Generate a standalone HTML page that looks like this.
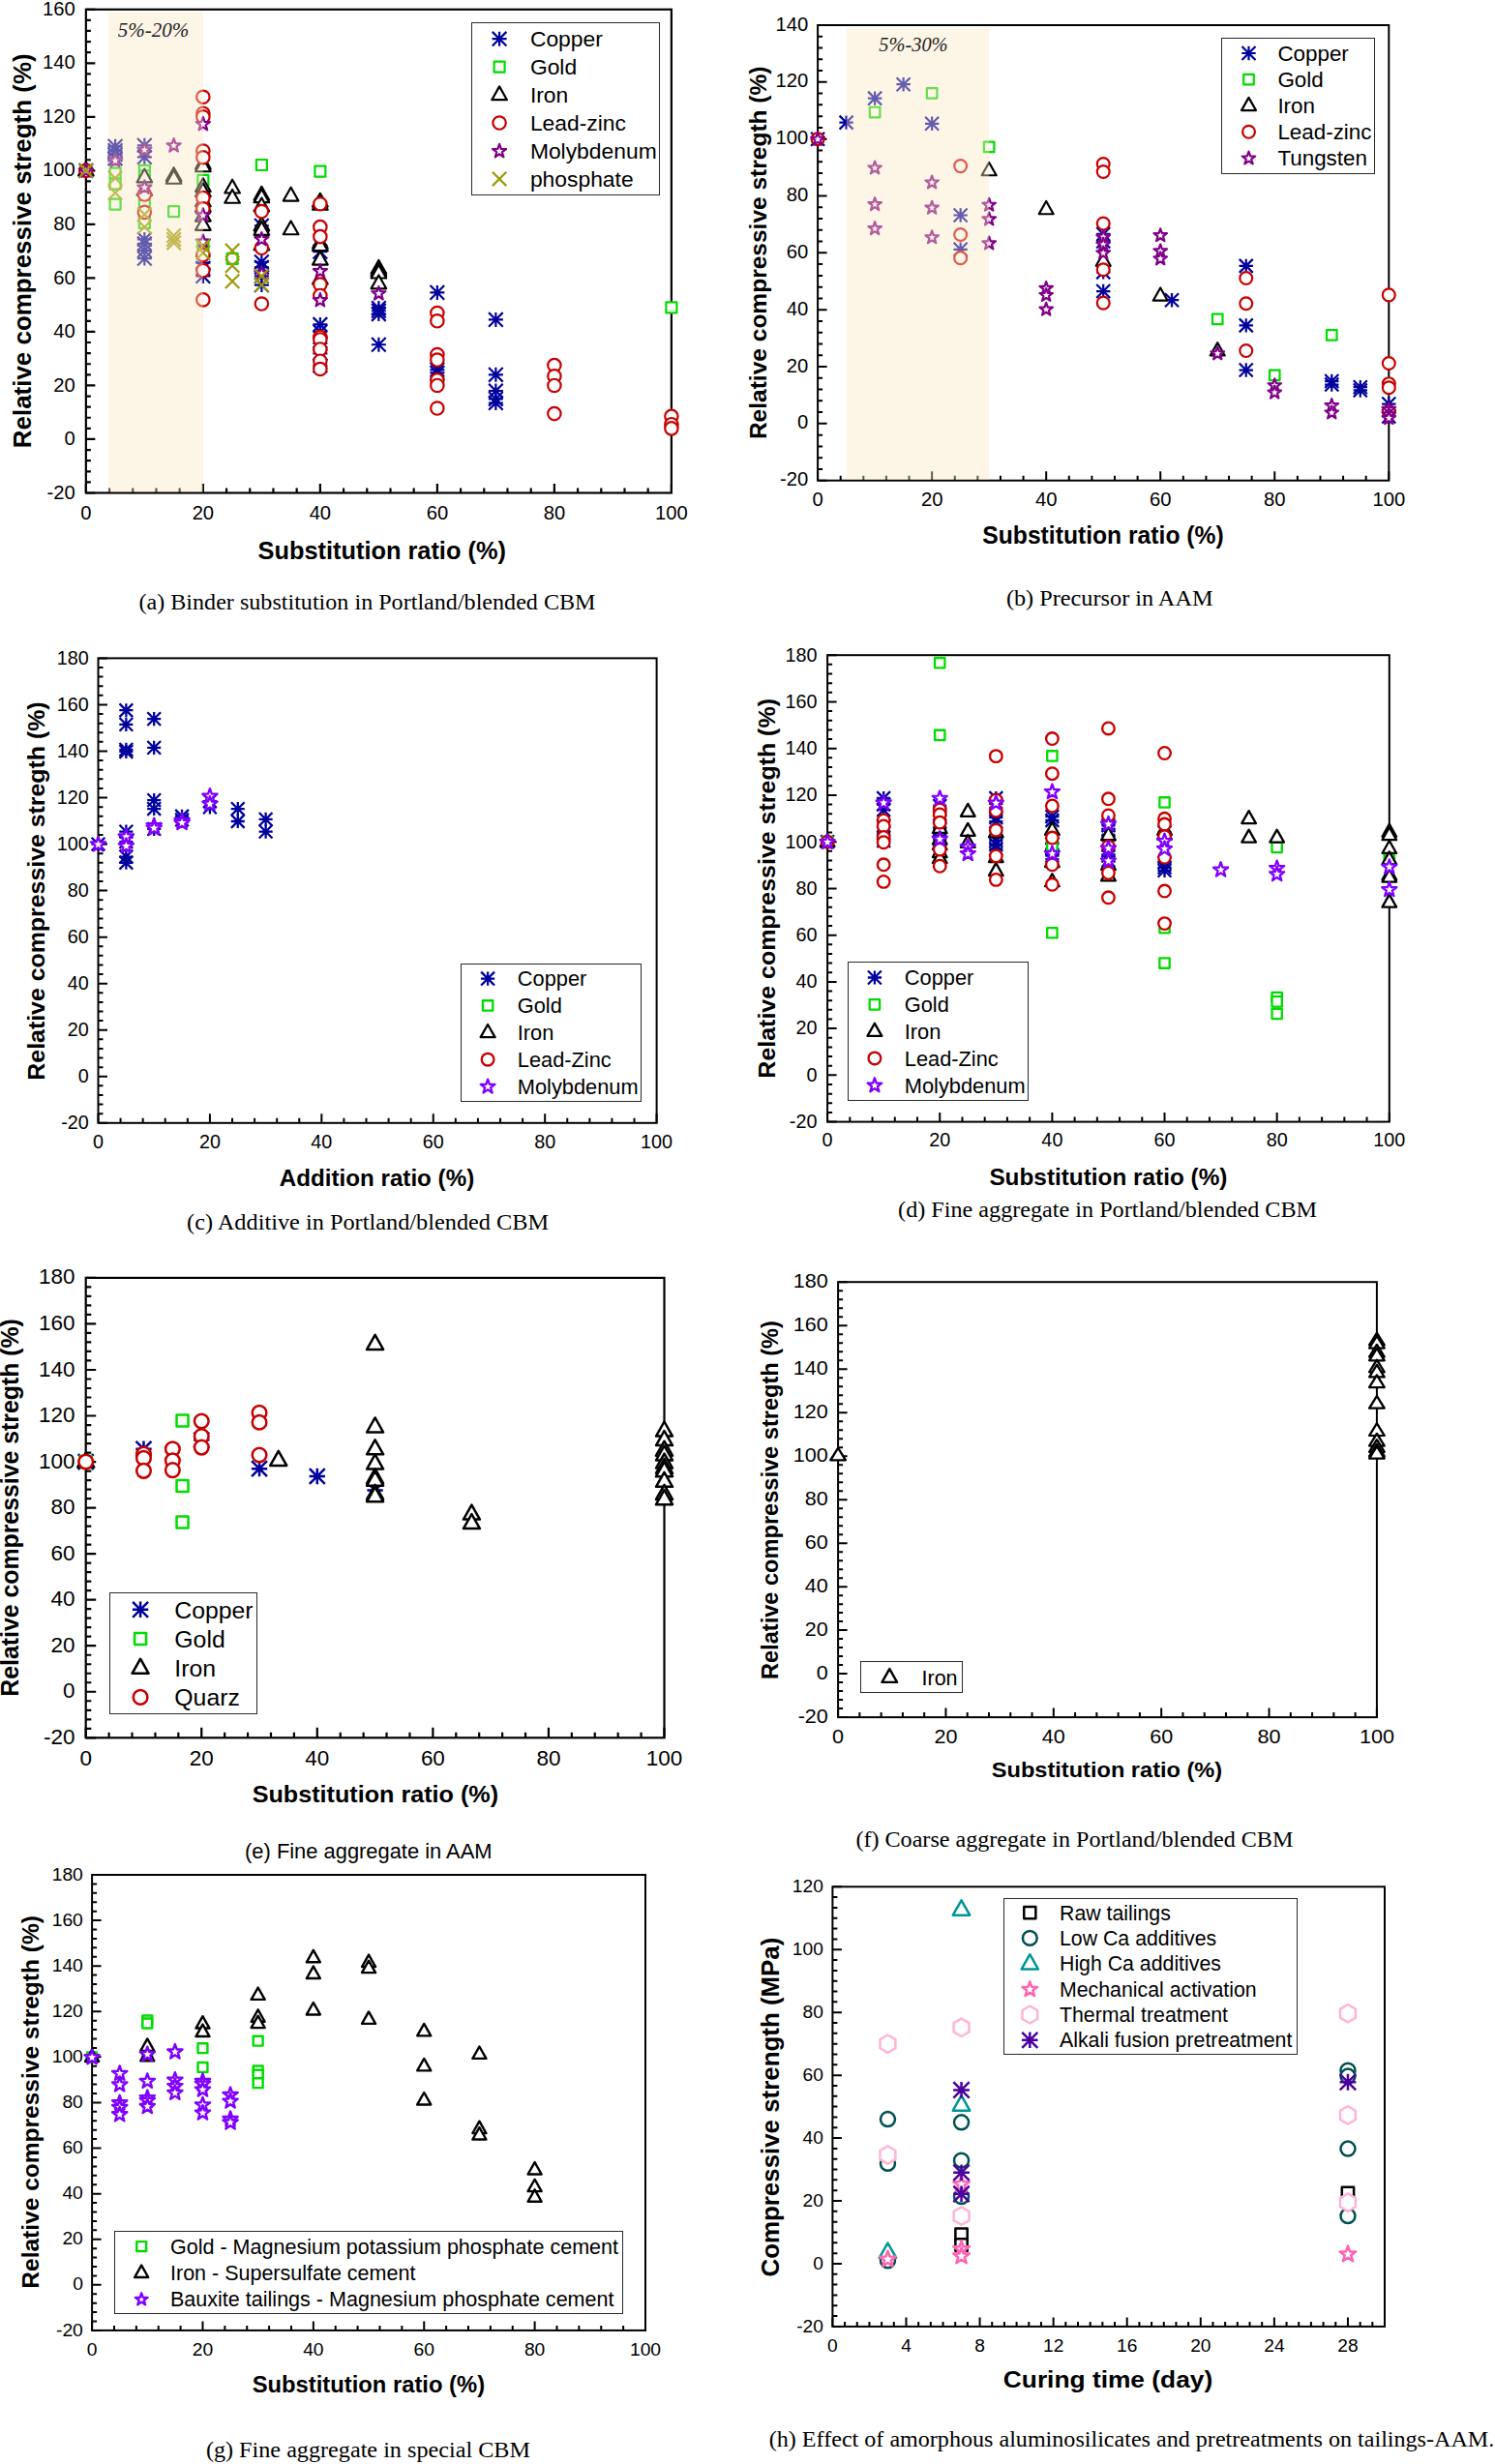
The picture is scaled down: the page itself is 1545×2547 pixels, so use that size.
<!DOCTYPE html>
<html lang="en"><head><meta charset="utf-8"><title>Relative compressive strength of tailings-based materials</title>
<style>html,body{margin:0;padding:0;background:#fff}svg{display:block}</style></head>
<body>
<svg width="1545" height="2547" viewBox="0 0 1545 2547" font-family="'Liberation Sans',sans-serif" fill="#000">
<g>
<path d="M88.85 509.5V500M209.86 509.5V500M330.87 509.5V500M451.88 509.5V500M572.89 509.5V500M693.9 509.5V500M113.05 509.5V504.5M137.25 509.5V504.5M161.46 509.5V504.5M185.66 509.5V504.5M234.06 509.5V504.5M258.26 509.5V504.5M282.47 509.5V504.5M306.67 509.5V504.5M355.07 509.5V504.5M379.27 509.5V504.5M403.48 509.5V504.5M427.68 509.5V504.5M476.08 509.5V504.5M500.28 509.5V504.5M524.49 509.5V504.5M548.69 509.5V504.5M597.09 509.5V504.5M621.29 509.5V504.5M645.5 509.5V504.5M669.7 509.5V504.5M88.85 509.5H98.35M88.85 453.97H98.35M88.85 398.44H98.35M88.85 342.92H98.35M88.85 287.39H98.35M88.85 231.86H98.35M88.85 176.33H98.35M88.85 120.81H98.35M88.85 65.28H98.35M88.85 9.75H98.35M88.85 498.39H93.85M88.85 487.29H93.85M88.85 476.18H93.85M88.85 465.08H93.85M88.85 442.87H93.85M88.85 431.76H93.85M88.85 420.66H93.85M88.85 409.55H93.85M88.85 387.34H93.85M88.85 376.23H93.85M88.85 365.13H93.85M88.85 354.02H93.85M88.85 331.81H93.85M88.85 320.71H93.85M88.85 309.6H93.85M88.85 298.49H93.85M88.85 276.28H93.85M88.85 265.18H93.85M88.85 254.07H93.85M88.85 242.97H93.85M88.85 220.76H93.85M88.85 209.65H93.85M88.85 198.54H93.85M88.85 187.44H93.85M88.85 165.23H93.85M88.85 154.12H93.85M88.85 143.02H93.85M88.85 131.91H93.85M88.85 109.7H93.85M88.85 98.59H93.85M88.85 87.49H93.85M88.85 76.38H93.85M88.85 54.17H93.85M88.85 43.07H93.85M88.85 31.96H93.85M88.85 20.86H93.85" stroke="#000" stroke-width="2.2" fill="none"/>
<rect x="88.85" y="9.75" width="605.05" height="499.75" stroke="#000" stroke-width="2.2" fill="none"/>
<path d="M88.85 168.83V183.83M81.35 176.33H96.35M81.55 169.03L96.15 183.63M81.55 183.63L96.15 169.03" stroke="#00009e" stroke-width="2.2" fill="none"/>
<path d="M119.1 143.85V158.85M111.6 151.35H126.6M111.8 144.05L126.4 158.65M111.8 158.65L126.4 144.05" stroke="#00009e" stroke-width="2.2" fill="none"/>
<path d="M119.1 148.01V163.01M111.6 155.51H126.6M111.8 148.21L126.4 162.81M111.8 162.81L126.4 148.21" stroke="#00009e" stroke-width="2.2" fill="none"/>
<path d="M119.1 152.18V167.18M111.6 159.68H126.6M111.8 152.38L126.4 166.98M111.8 166.98L126.4 152.38" stroke="#00009e" stroke-width="2.2" fill="none"/>
<path d="M119.1 156.34V171.34M111.6 163.84H126.6M111.8 156.54L126.4 171.14M111.8 171.14L126.4 156.54" stroke="#00009e" stroke-width="2.2" fill="none"/>
<path d="M149.35 142.74V157.74M141.85 150.24H156.85M142.05 142.94L156.66 157.54M142.05 157.54L156.66 142.94" stroke="#00009e" stroke-width="2.2" fill="none"/>
<path d="M149.35 154.95V169.95M141.85 162.45H156.85M142.05 155.15L156.66 169.75M142.05 169.75L156.66 155.15" stroke="#00009e" stroke-width="2.2" fill="none"/>
<path d="M149.35 239.91V254.91M141.85 247.41H156.85M142.05 240.11L156.66 254.71M142.05 254.71L156.66 240.11" stroke="#00009e" stroke-width="2.2" fill="none"/>
<path d="M149.35 244.35V259.35M141.85 251.85H156.85M142.05 244.55L156.66 259.15M142.05 259.15L156.66 244.55" stroke="#00009e" stroke-width="2.2" fill="none"/>
<path d="M149.35 251.57V266.57M141.85 259.07H156.85M142.05 251.77L156.66 266.37M142.05 266.37L156.66 251.77" stroke="#00009e" stroke-width="2.2" fill="none"/>
<path d="M149.35 259.62V274.62M141.85 267.12H156.85M142.05 259.82L156.66 274.42M142.05 274.42L156.66 259.82" stroke="#00009e" stroke-width="2.2" fill="none"/>
<path d="M209.86 264.06V279.06M202.36 271.56H217.36M202.56 264.26L217.16 278.86M202.56 278.86L217.16 264.26" stroke="#00009e" stroke-width="2.2" fill="none"/>
<path d="M209.86 269.89V284.89M202.36 277.39H217.36M202.56 270.09L217.16 284.69M202.56 284.69L217.16 270.09" stroke="#00009e" stroke-width="2.2" fill="none"/>
<path d="M209.86 277.95V292.95M202.36 285.45H217.36M202.56 278.15L217.16 292.75M202.56 292.75L217.16 278.15" stroke="#00009e" stroke-width="2.2" fill="none"/>
<path d="M270.37 225.75V240.75M262.87 233.25H277.87M263.06 225.95L277.67 240.55M263.06 240.55L277.67 225.95" stroke="#00009e" stroke-width="2.2" fill="none"/>
<path d="M270.37 263.23V278.23M262.87 270.73H277.87M263.06 263.43L277.67 278.03M263.06 278.03L277.67 263.43" stroke="#00009e" stroke-width="2.2" fill="none"/>
<path d="M270.37 268.78V283.78M262.87 276.28H277.87M263.06 268.98L277.67 283.58M263.06 283.58L277.67 268.98" stroke="#00009e" stroke-width="2.2" fill="none"/>
<path d="M270.37 277.95V292.95M262.87 285.45H277.87M263.06 278.15L277.67 292.75M263.06 292.75L277.67 278.15" stroke="#00009e" stroke-width="2.2" fill="none"/>
<path d="M270.37 287.11V302.11M262.87 294.61H277.87M263.06 287.31L277.67 301.91M263.06 301.91L277.67 287.31" stroke="#00009e" stroke-width="2.2" fill="none"/>
<path d="M330.87 252.68V267.68M323.37 260.18H338.37M323.57 252.88L338.17 267.48M323.57 267.48L338.17 252.88" stroke="#00009e" stroke-width="2.2" fill="none"/>
<path d="M330.87 327.92V342.92M323.37 335.42H338.37M323.57 328.12L338.17 342.72M323.57 342.72L338.17 328.12" stroke="#00009e" stroke-width="2.2" fill="none"/>
<path d="M330.87 335.42V350.42M323.37 342.92H338.37M323.57 335.62L338.17 350.22M323.57 350.22L338.17 335.62" stroke="#00009e" stroke-width="2.2" fill="none"/>
<path d="M330.87 347.36V362.36M323.37 354.86H338.37M323.57 347.56L338.17 362.16M323.57 362.16L338.17 347.56" stroke="#00009e" stroke-width="2.2" fill="none"/>
<path d="M330.87 357.91V372.91M323.37 365.41H338.37M323.57 358.11L338.17 372.71M323.57 372.71L338.17 358.11" stroke="#00009e" stroke-width="2.2" fill="none"/>
<path d="M330.87 370.4V385.4M323.37 377.9H338.37M323.57 370.6L338.17 385.2M323.57 385.2L338.17 370.6" stroke="#00009e" stroke-width="2.2" fill="none"/>
<path d="M391.38 310.98V325.98M383.88 318.48H398.88M384.07 311.18L398.68 325.78M384.07 325.78L398.68 311.18" stroke="#00009e" stroke-width="2.2" fill="none"/>
<path d="M391.38 313.76V328.76M383.88 321.26H398.88M384.07 313.96L398.68 328.56M384.07 328.56L398.68 313.96" stroke="#00009e" stroke-width="2.2" fill="none"/>
<path d="M391.38 317.09V332.09M383.88 324.59H398.88M384.07 317.29L398.68 331.89M384.07 331.89L398.68 317.29" stroke="#00009e" stroke-width="2.2" fill="none"/>
<path d="M391.38 348.74V363.74M383.88 356.24H398.88M384.07 348.94L398.68 363.54M384.07 363.54L398.68 348.94" stroke="#00009e" stroke-width="2.2" fill="none"/>
<path d="M451.88 294.88V309.88M444.38 302.38H459.38M444.58 295.08L459.18 309.68M444.58 309.68L459.18 295.08" stroke="#00009e" stroke-width="2.2" fill="none"/>
<path d="M451.88 374.84V389.84M444.38 382.34H459.38M444.58 375.04L459.18 389.64M444.58 389.64L459.18 375.04" stroke="#00009e" stroke-width="2.2" fill="none"/>
<path d="M451.88 377.9V392.9M444.38 385.4H459.38M444.58 378.1L459.18 392.7M444.58 392.7L459.18 378.1" stroke="#00009e" stroke-width="2.2" fill="none"/>
<path d="M512.38 322.92V337.92M504.88 330.42H519.88M505.08 323.12L519.68 337.72M505.08 337.72L519.68 323.12" stroke="#00009e" stroke-width="2.2" fill="none"/>
<path d="M512.38 379.84V394.84M504.88 387.34H519.88M505.08 380.04L519.68 394.64M505.08 394.64L519.68 380.04" stroke="#00009e" stroke-width="2.2" fill="none"/>
<path d="M512.38 396.5V411.5M504.88 404H519.88M505.08 396.7L519.68 411.3M505.08 411.3L519.68 396.7" stroke="#00009e" stroke-width="2.2" fill="none"/>
<path d="M512.38 404.83V419.83M504.88 412.33H519.88M505.08 405.03L519.68 419.63M505.08 419.63L519.68 405.03" stroke="#00009e" stroke-width="2.2" fill="none"/>
<path d="M512.38 408.99V423.99M504.88 416.49H519.88M505.08 409.19L519.68 423.79M505.08 423.79L519.68 409.19" stroke="#00009e" stroke-width="2.2" fill="none"/>
<rect x="83.35" y="170.83" width="11" height="11" stroke="#00dc00" stroke-width="2.2" fill="#fff" stroke-linejoin="round"/>
<rect x="113.6" y="173.61" width="11" height="11" stroke="#00dc00" stroke-width="2.2" fill="#fff" stroke-linejoin="round"/>
<rect x="113.6" y="184.72" width="11" height="11" stroke="#00dc00" stroke-width="2.2" fill="#fff" stroke-linejoin="round"/>
<rect x="113.6" y="205.54" width="11" height="11" stroke="#00dc00" stroke-width="2.2" fill="#fff" stroke-linejoin="round"/>
<rect x="143.85" y="170.83" width="11" height="11" stroke="#00dc00" stroke-width="2.2" fill="#fff" stroke-linejoin="round"/>
<rect x="143.85" y="176.39" width="11" height="11" stroke="#00dc00" stroke-width="2.2" fill="#fff" stroke-linejoin="round"/>
<rect x="143.85" y="206.93" width="11" height="11" stroke="#00dc00" stroke-width="2.2" fill="#fff" stroke-linejoin="round"/>
<rect x="143.85" y="216.09" width="11" height="11" stroke="#00dc00" stroke-width="2.2" fill="#fff" stroke-linejoin="round"/>
<rect x="143.85" y="224.97" width="11" height="11" stroke="#00dc00" stroke-width="2.2" fill="#fff" stroke-linejoin="round"/>
<rect x="174.11" y="213.03" width="11" height="11" stroke="#00dc00" stroke-width="2.2" fill="#fff" stroke-linejoin="round"/>
<rect x="204.36" y="180.83" width="11" height="11" stroke="#00dc00" stroke-width="2.2" fill="#fff" stroke-linejoin="round"/>
<rect x="204.36" y="247.74" width="11" height="11" stroke="#00dc00" stroke-width="2.2" fill="#fff" stroke-linejoin="round"/>
<rect x="234.61" y="261.9" width="11" height="11" stroke="#00dc00" stroke-width="2.2" fill="#fff" stroke-linejoin="round"/>
<rect x="264.87" y="165" width="11" height="11" stroke="#00dc00" stroke-width="2.2" fill="#fff" stroke-linejoin="round"/>
<rect x="325.37" y="171.67" width="11" height="11" stroke="#00dc00" stroke-width="2.2" fill="#fff" stroke-linejoin="round"/>
<rect x="688.4" y="312.43" width="11" height="11" stroke="#00dc00" stroke-width="2.2" fill="#fff" stroke-linejoin="round"/>
<path d="M88.85 167.63L96.65 181.43L81.05 181.43Z" stroke="#000" stroke-width="2.2" fill="#fff" stroke-linejoin="round"/>
<path d="M149.35 174.57L157.16 188.37L141.55 188.37Z" stroke="#000" stroke-width="2.2" fill="#fff" stroke-linejoin="round"/>
<path d="M149.35 187.9L157.16 201.7L141.55 201.7Z" stroke="#000" stroke-width="2.2" fill="#fff" stroke-linejoin="round"/>
<path d="M179.61 173.19L187.41 186.99L171.81 186.99Z" stroke="#000" stroke-width="2.2" fill="#fff" stroke-linejoin="round"/>
<path d="M179.61 175.96L187.41 189.76L171.81 189.76Z" stroke="#000" stroke-width="2.2" fill="#fff" stroke-linejoin="round"/>
<path d="M209.86 160.69L217.66 174.49L202.06 174.49Z" stroke="#000" stroke-width="2.2" fill="#fff" stroke-linejoin="round"/>
<path d="M209.86 163.47L217.66 177.27L202.06 177.27Z" stroke="#000" stroke-width="2.2" fill="#fff" stroke-linejoin="round"/>
<path d="M209.86 184.29L217.66 198.09L202.06 198.09Z" stroke="#000" stroke-width="2.2" fill="#fff" stroke-linejoin="round"/>
<path d="M209.86 189.29L217.66 203.09L202.06 203.09Z" stroke="#000" stroke-width="2.2" fill="#fff" stroke-linejoin="round"/>
<path d="M209.86 199.56L217.66 213.36L202.06 213.36Z" stroke="#000" stroke-width="2.2" fill="#fff" stroke-linejoin="round"/>
<path d="M209.86 205.11L217.66 218.91L202.06 218.91Z" stroke="#000" stroke-width="2.2" fill="#fff" stroke-linejoin="round"/>
<path d="M209.86 214.83L217.66 228.63L202.06 228.63Z" stroke="#000" stroke-width="2.2" fill="#fff" stroke-linejoin="round"/>
<path d="M209.86 223.99L217.66 237.79L202.06 237.79Z" stroke="#000" stroke-width="2.2" fill="#fff" stroke-linejoin="round"/>
<path d="M240.11 185.68L247.91 199.48L232.31 199.48Z" stroke="#000" stroke-width="2.2" fill="#fff" stroke-linejoin="round"/>
<path d="M240.11 195.95L247.91 209.75L232.31 209.75Z" stroke="#000" stroke-width="2.2" fill="#fff" stroke-linejoin="round"/>
<path d="M270.37 192.9L278.17 206.7L262.56 206.7Z" stroke="#000" stroke-width="2.2" fill="#fff" stroke-linejoin="round"/>
<path d="M270.37 195.4L278.17 209.2L262.56 209.2Z" stroke="#000" stroke-width="2.2" fill="#fff" stroke-linejoin="round"/>
<path d="M270.37 204.56L278.17 218.36L262.56 218.36Z" stroke="#000" stroke-width="2.2" fill="#fff" stroke-linejoin="round"/>
<path d="M270.37 224.55L278.17 238.35L262.56 238.35Z" stroke="#000" stroke-width="2.2" fill="#fff" stroke-linejoin="round"/>
<path d="M270.37 228.99L278.17 242.79L262.56 242.79Z" stroke="#000" stroke-width="2.2" fill="#fff" stroke-linejoin="round"/>
<path d="M270.37 244.54L278.17 258.34L262.56 258.34Z" stroke="#000" stroke-width="2.2" fill="#fff" stroke-linejoin="round"/>
<path d="M300.62 193.73L308.42 207.53L292.82 207.53Z" stroke="#000" stroke-width="2.2" fill="#fff" stroke-linejoin="round"/>
<path d="M300.62 228.44L308.42 242.24L292.82 242.24Z" stroke="#000" stroke-width="2.2" fill="#fff" stroke-linejoin="round"/>
<path d="M330.87 199.84L338.67 213.64L323.07 213.64Z" stroke="#000" stroke-width="2.2" fill="#fff" stroke-linejoin="round"/>
<path d="M330.87 202.89L338.67 216.69L323.07 216.69Z" stroke="#000" stroke-width="2.2" fill="#fff" stroke-linejoin="round"/>
<path d="M330.87 242.87L338.67 256.67L323.07 256.67Z" stroke="#000" stroke-width="2.2" fill="#fff" stroke-linejoin="round"/>
<path d="M330.87 245.37L338.67 259.17L323.07 259.17Z" stroke="#000" stroke-width="2.2" fill="#fff" stroke-linejoin="round"/>
<path d="M330.87 259.81L338.67 273.61L323.07 273.61Z" stroke="#000" stroke-width="2.2" fill="#fff" stroke-linejoin="round"/>
<path d="M330.87 279.8L338.67 293.6L323.07 293.6Z" stroke="#000" stroke-width="2.2" fill="#fff" stroke-linejoin="round"/>
<path d="M391.38 268.97L399.18 282.77L383.57 282.77Z" stroke="#000" stroke-width="2.2" fill="#fff" stroke-linejoin="round"/>
<path d="M391.38 271.47L399.18 285.27L383.57 285.27Z" stroke="#000" stroke-width="2.2" fill="#fff" stroke-linejoin="round"/>
<path d="M391.38 273.69L399.18 287.49L383.57 287.49Z" stroke="#000" stroke-width="2.2" fill="#fff" stroke-linejoin="round"/>
<path d="M391.38 284.52L399.18 298.32L383.57 298.32Z" stroke="#000" stroke-width="2.2" fill="#fff" stroke-linejoin="round"/>
<circle cx="88.85" cy="176.33" r="6.7" stroke="#c80000" stroke-width="2.2" fill="#fff"/>
<circle cx="149.35" cy="201.04" r="6.7" stroke="#c80000" stroke-width="2.2" fill="#fff"/>
<circle cx="149.35" cy="219.37" r="6.7" stroke="#c80000" stroke-width="2.2" fill="#fff"/>
<circle cx="209.86" cy="100.26" r="6.7" stroke="#c80000" stroke-width="2.2" fill="#fff"/>
<circle cx="209.86" cy="117.2" r="6.7" stroke="#c80000" stroke-width="2.2" fill="#fff"/>
<circle cx="209.86" cy="120.81" r="6.7" stroke="#c80000" stroke-width="2.2" fill="#fff"/>
<circle cx="209.86" cy="156.07" r="6.7" stroke="#c80000" stroke-width="2.2" fill="#fff"/>
<circle cx="209.86" cy="162.73" r="6.7" stroke="#c80000" stroke-width="2.2" fill="#fff"/>
<circle cx="209.86" cy="204.65" r="6.7" stroke="#c80000" stroke-width="2.2" fill="#fff"/>
<circle cx="209.86" cy="215.76" r="6.7" stroke="#c80000" stroke-width="2.2" fill="#fff"/>
<circle cx="209.86" cy="263.51" r="6.7" stroke="#c80000" stroke-width="2.2" fill="#fff"/>
<circle cx="209.86" cy="279.62" r="6.7" stroke="#c80000" stroke-width="2.2" fill="#fff"/>
<circle cx="209.86" cy="309.88" r="6.7" stroke="#c80000" stroke-width="2.2" fill="#fff"/>
<circle cx="270.37" cy="218.53" r="6.7" stroke="#c80000" stroke-width="2.2" fill="#fff"/>
<circle cx="270.37" cy="256.29" r="6.7" stroke="#c80000" stroke-width="2.2" fill="#fff"/>
<circle cx="270.37" cy="314.04" r="6.7" stroke="#c80000" stroke-width="2.2" fill="#fff"/>
<circle cx="330.87" cy="210.76" r="6.7" stroke="#c80000" stroke-width="2.2" fill="#fff"/>
<circle cx="330.87" cy="234.64" r="6.7" stroke="#c80000" stroke-width="2.2" fill="#fff"/>
<circle cx="330.87" cy="244.63" r="6.7" stroke="#c80000" stroke-width="2.2" fill="#fff"/>
<circle cx="330.87" cy="294.05" r="6.7" stroke="#c80000" stroke-width="2.2" fill="#fff"/>
<circle cx="330.87" cy="305.44" r="6.7" stroke="#c80000" stroke-width="2.2" fill="#fff"/>
<circle cx="330.87" cy="348.47" r="6.7" stroke="#c80000" stroke-width="2.2" fill="#fff"/>
<circle cx="330.87" cy="350.97" r="6.7" stroke="#c80000" stroke-width="2.2" fill="#fff"/>
<circle cx="330.87" cy="360.96" r="6.7" stroke="#c80000" stroke-width="2.2" fill="#fff"/>
<circle cx="330.87" cy="373.18" r="6.7" stroke="#c80000" stroke-width="2.2" fill="#fff"/>
<circle cx="330.87" cy="381.51" r="6.7" stroke="#c80000" stroke-width="2.2" fill="#fff"/>
<circle cx="451.88" cy="323.48" r="6.7" stroke="#c80000" stroke-width="2.2" fill="#fff"/>
<circle cx="451.88" cy="331.81" r="6.7" stroke="#c80000" stroke-width="2.2" fill="#fff"/>
<circle cx="451.88" cy="366.52" r="6.7" stroke="#c80000" stroke-width="2.2" fill="#fff"/>
<circle cx="451.88" cy="372.07" r="6.7" stroke="#c80000" stroke-width="2.2" fill="#fff"/>
<circle cx="451.88" cy="392.89" r="6.7" stroke="#c80000" stroke-width="2.2" fill="#fff"/>
<circle cx="451.88" cy="398.44" r="6.7" stroke="#c80000" stroke-width="2.2" fill="#fff"/>
<circle cx="451.88" cy="422.04" r="6.7" stroke="#c80000" stroke-width="2.2" fill="#fff"/>
<circle cx="572.89" cy="377.62" r="6.7" stroke="#c80000" stroke-width="2.2" fill="#fff"/>
<circle cx="572.89" cy="388.73" r="6.7" stroke="#c80000" stroke-width="2.2" fill="#fff"/>
<circle cx="572.89" cy="398.44" r="6.7" stroke="#c80000" stroke-width="2.2" fill="#fff"/>
<circle cx="572.89" cy="427.6" r="6.7" stroke="#c80000" stroke-width="2.2" fill="#fff"/>
<circle cx="693.9" cy="430.37" r="6.7" stroke="#c80000" stroke-width="2.2" fill="#fff"/>
<circle cx="693.9" cy="438.7" r="6.7" stroke="#c80000" stroke-width="2.2" fill="#fff"/>
<circle cx="693.9" cy="442.87" r="6.7" stroke="#c80000" stroke-width="2.2" fill="#fff"/>
<path d="M88.85 169.23L90.59 174.24L95.89 174.35L91.67 177.55L93.2 182.62L88.85 179.59L84.5 182.62L86.03 177.55L81.81 174.35L87.11 174.24Z" stroke="#800088" stroke-width="2.2" fill="#fff" stroke-linejoin="round"/>
<path d="M119.1 158.68L120.84 163.69L126.14 163.8L121.92 167L123.45 172.07L119.1 169.04L114.75 172.07L116.29 167L112.06 163.8L117.36 163.69Z" stroke="#800088" stroke-width="2.2" fill="#fff" stroke-linejoin="round"/>
<path d="M149.35 147.58L151.09 152.58L156.39 152.69L152.17 155.89L153.7 160.96L149.35 157.94L145.01 160.96L146.54 155.89L142.32 152.69L147.62 152.58Z" stroke="#800088" stroke-width="2.2" fill="#fff" stroke-linejoin="round"/>
<path d="M149.35 186.45L151.09 191.45L156.39 191.56L152.17 194.76L153.7 199.83L149.35 196.81L145.01 199.83L146.54 194.76L142.32 191.56L147.62 191.45Z" stroke="#800088" stroke-width="2.2" fill="#fff" stroke-linejoin="round"/>
<path d="M179.61 143.14L181.35 148.14L186.65 148.25L182.42 151.45L183.96 156.52L179.61 153.5L175.26 156.52L176.79 151.45L172.57 148.25L177.87 148.14Z" stroke="#800088" stroke-width="2.2" fill="#fff" stroke-linejoin="round"/>
<path d="M209.86 120.92L211.6 125.93L216.9 126.04L212.68 129.24L214.21 134.31L209.86 131.28L205.51 134.31L207.04 129.24L202.82 126.04L208.12 125.93Z" stroke="#800088" stroke-width="2.2" fill="#fff" stroke-linejoin="round"/>
<path d="M209.86 215.32L211.6 220.33L216.9 220.43L212.68 223.64L214.21 228.71L209.86 225.68L205.51 228.71L207.04 223.64L202.82 220.43L208.12 220.33Z" stroke="#800088" stroke-width="2.2" fill="#fff" stroke-linejoin="round"/>
<path d="M209.86 242.53L211.6 247.54L216.9 247.64L212.68 250.84L214.21 255.92L209.86 252.89L205.51 255.92L207.04 250.84L202.82 247.64L208.12 247.54Z" stroke="#800088" stroke-width="2.2" fill="#fff" stroke-linejoin="round"/>
<path d="M270.37 240.03L272.1 245.04L277.4 245.14L273.18 248.35L274.71 253.42L270.37 250.39L266.02 253.42L267.55 248.35L263.33 245.14L268.63 245.04Z" stroke="#800088" stroke-width="2.2" fill="#fff" stroke-linejoin="round"/>
<path d="M270.37 275.29L272.1 280.3L277.4 280.4L273.18 283.61L274.71 288.68L270.37 285.65L266.02 288.68L267.55 283.61L263.33 280.4L268.63 280.3Z" stroke="#800088" stroke-width="2.2" fill="#fff" stroke-linejoin="round"/>
<path d="M330.87 273.07L332.61 278.08L337.91 278.18L333.69 281.38L335.22 286.46L330.87 283.43L326.52 286.46L328.05 281.38L323.83 278.18L329.13 278.08Z" stroke="#800088" stroke-width="2.2" fill="#fff" stroke-linejoin="round"/>
<path d="M330.87 303.06L332.61 308.06L337.91 308.17L333.69 311.37L335.22 316.44L330.87 313.42L326.52 316.44L328.05 311.37L323.83 308.17L329.13 308.06Z" stroke="#800088" stroke-width="2.2" fill="#fff" stroke-linejoin="round"/>
<path d="M391.38 296.11L393.11 301.12L398.41 301.23L394.19 304.43L395.72 309.5L391.38 306.47L387.03 309.5L388.56 304.43L384.34 301.23L389.64 301.12Z" stroke="#800088" stroke-width="2.2" fill="#fff" stroke-linejoin="round"/>
<path d="M81.65 169.13L96.05 183.53M81.65 183.53L96.05 169.13" stroke="#9e9a08" stroke-width="2.2" fill="none"/>
<path d="M111.9 176.91L126.3 191.31M111.9 191.31L126.3 176.91" stroke="#9e9a08" stroke-width="2.2" fill="none"/>
<path d="M111.9 192.18L126.3 206.58M111.9 206.58L126.3 192.18" stroke="#9e9a08" stroke-width="2.2" fill="none"/>
<path d="M142.16 214.39L156.55 228.79M142.16 228.79L156.55 214.39" stroke="#9e9a08" stroke-width="2.2" fill="none"/>
<path d="M142.16 227.44L156.55 241.84M142.16 241.84L156.55 227.44" stroke="#9e9a08" stroke-width="2.2" fill="none"/>
<path d="M172.41 236.32L186.81 250.72M172.41 250.72L186.81 236.32" stroke="#9e9a08" stroke-width="2.2" fill="none"/>
<path d="M172.41 240.21L186.81 254.61M172.41 254.61L186.81 240.21" stroke="#9e9a08" stroke-width="2.2" fill="none"/>
<path d="M172.41 243.82L186.81 258.22M172.41 258.22L186.81 243.82" stroke="#9e9a08" stroke-width="2.2" fill="none"/>
<path d="M202.66 247.43L217.06 261.83M202.66 261.83L217.06 247.43" stroke="#9e9a08" stroke-width="2.2" fill="none"/>
<path d="M202.66 254.09L217.06 268.49M202.66 268.49L217.06 254.09" stroke="#9e9a08" stroke-width="2.2" fill="none"/>
<path d="M232.91 251.87L247.31 266.27M232.91 266.27L247.31 251.87" stroke="#9e9a08" stroke-width="2.2" fill="none"/>
<path d="M232.91 267.42L247.31 281.82M232.91 281.82L247.31 267.42" stroke="#9e9a08" stroke-width="2.2" fill="none"/>
<path d="M232.91 283.52L247.31 297.92M232.91 297.92L247.31 283.52" stroke="#9e9a08" stroke-width="2.2" fill="none"/>
<path d="M263.17 278.25L277.56 292.65M263.17 292.65L277.56 278.25" stroke="#9e9a08" stroke-width="2.2" fill="none"/>
<path d="M263.17 287.41L277.56 301.81M263.17 301.81L277.56 287.41" stroke="#9e9a08" stroke-width="2.2" fill="none"/>
<rect x="111.84" y="12.35" width="98.02" height="496.15" fill="rgb(250,230,192)" fill-opacity="0.4"/>
<text x="158.5" y="37.9" font-family="'Liberation Serif',serif" font-style="italic" font-size="21" text-anchor="middle" fill="#222">5%-20%</text>
<text transform="translate(88.85 536.7) scale(1.01 1)" font-size="20" text-anchor="middle">0</text>
<text transform="translate(209.86 536.7) scale(1.01 1)" font-size="20" text-anchor="middle">20</text>
<text transform="translate(330.87 536.7) scale(1.01 1)" font-size="20" text-anchor="middle">40</text>
<text transform="translate(451.88 536.7) scale(1.01 1)" font-size="20" text-anchor="middle">60</text>
<text transform="translate(572.89 536.7) scale(1.01 1)" font-size="20" text-anchor="middle">80</text>
<text transform="translate(693.9 536.7) scale(1.01 1)" font-size="20" text-anchor="middle">100</text>
<text transform="translate(77.8 515.66) scale(1.01 1)" font-size="20" text-anchor="end">-20</text>
<text transform="translate(77.8 460.13) scale(1.01 1)" font-size="20" text-anchor="end">0</text>
<text transform="translate(77.8 404.6) scale(1.01 1)" font-size="20" text-anchor="end">20</text>
<text transform="translate(77.8 349.08) scale(1.01 1)" font-size="20" text-anchor="end">40</text>
<text transform="translate(77.8 293.55) scale(1.01 1)" font-size="20" text-anchor="end">60</text>
<text transform="translate(77.8 238.02) scale(1.01 1)" font-size="20" text-anchor="end">80</text>
<text transform="translate(77.8 182.49) scale(1.01 1)" font-size="20" text-anchor="end">100</text>
<text transform="translate(77.8 126.97) scale(1.01 1)" font-size="20" text-anchor="end">120</text>
<text transform="translate(77.8 71.44) scale(1.01 1)" font-size="20" text-anchor="end">140</text>
<text transform="translate(77.8 15.91) scale(1.01 1)" font-size="20" text-anchor="end">160</text>
<text x="394.7" y="578" font-size="25" font-weight="bold" text-anchor="middle" textLength="256.4" lengthAdjust="spacingAndGlyphs">Substitution ratio (%)</text>
<text transform="translate(32.1 259.3) rotate(-90)" font-size="25.8" font-weight="bold" text-anchor="middle" textLength="407.7" lengthAdjust="spacingAndGlyphs">Relative compressive stregth (%)</text>
<rect x="487.5" y="23.5" width="194" height="178" fill="#fff" stroke="#2a2a2a" stroke-width="1"/>
<path d="M516.1 32.7V47.7M508.6 40.2H523.6M508.8 32.9L523.4 47.5M508.8 47.5L523.4 32.9" stroke="#00009e" stroke-width="2.2" fill="none"/>
<text x="547.9" y="48.38" font-size="22.85">Copper</text>
<rect x="510.6" y="63.65" width="11" height="11" stroke="#00dc00" stroke-width="2.2" fill="#fff" stroke-linejoin="round"/>
<text x="547.9" y="77.33" font-size="22.85">Gold</text>
<path d="M516.1 89.4L523.9 103.2L508.3 103.2Z" stroke="#000" stroke-width="2.2" fill="#fff" stroke-linejoin="round"/>
<text x="547.9" y="106.28" font-size="22.85">Iron</text>
<circle cx="516.1" cy="127.05" r="6.7" stroke="#c80000" stroke-width="2.2" fill="#fff"/>
<text x="547.9" y="135.23" font-size="22.85">Lead-zinc</text>
<path d="M516.1 148.9L517.84 153.91L523.14 154.01L518.92 157.21L520.45 162.29L516.1 159.26L511.75 162.29L513.28 157.21L509.06 154.01L514.36 153.91Z" stroke="#800088" stroke-width="2.2" fill="#fff" stroke-linejoin="round"/>
<text x="547.9" y="164.18" font-size="22.85">Molybdenum</text>
<path d="M508.9 177.75L523.3 192.15M508.9 192.15L523.3 177.75" stroke="#9e9a08" stroke-width="2.2" fill="none"/>
<text x="547.9" y="193.13" font-size="22.85">phosphate</text>
<text x="379.5" y="629.7" font-size="24" font-family="'Liberation Serif',serif" text-anchor="middle" textLength="472" lengthAdjust="spacingAndGlyphs">(a) Binder substitution in Portland/blended CBM</text>
</g>
<g>
<path d="M845.1 496.7V487.2M963.14 496.7V487.2M1081.18 496.7V487.2M1199.22 496.7V487.2M1317.26 496.7V487.2M1435.3 496.7V487.2M868.71 496.7V491.7M892.32 496.7V491.7M915.92 496.7V491.7M939.53 496.7V491.7M986.75 496.7V491.7M1010.36 496.7V491.7M1033.96 496.7V491.7M1057.57 496.7V491.7M1104.79 496.7V491.7M1128.4 496.7V491.7M1152 496.7V491.7M1175.61 496.7V491.7M1222.83 496.7V491.7M1246.44 496.7V491.7M1270.04 496.7V491.7M1293.65 496.7V491.7M1340.87 496.7V491.7M1364.48 496.7V491.7M1388.08 496.7V491.7M1411.69 496.7V491.7M845.1 496.7H854.6M845.1 437.86H854.6M845.1 379.02H854.6M845.1 320.19H854.6M845.1 261.35H854.6M845.1 202.51H854.6M845.1 143.68H854.6M845.1 84.84H854.6M845.1 26H854.6M845.1 484.93H850.1M845.1 473.16H850.1M845.1 461.4H850.1M845.1 449.63H850.1M845.1 426.1H850.1M845.1 414.33H850.1M845.1 402.56H850.1M845.1 390.79H850.1M845.1 367.26H850.1M845.1 355.49H850.1M845.1 343.72H850.1M845.1 331.96H850.1M845.1 308.42H850.1M845.1 296.65H850.1M845.1 284.88H850.1M845.1 273.12H850.1M845.1 249.58H850.1M845.1 237.81H850.1M845.1 226.05H850.1M845.1 214.28H850.1M845.1 190.75H850.1M845.1 178.98H850.1M845.1 167.21H850.1M845.1 155.44H850.1M845.1 131.91H850.1M845.1 120.14H850.1M845.1 108.37H850.1M845.1 96.61H850.1M845.1 73.07H850.1M845.1 61.3H850.1M845.1 49.54H850.1M845.1 37.77H850.1" stroke="#000" stroke-width="2" fill="none"/>
<rect x="845.1" y="26" width="590.2" height="470.7" stroke="#000" stroke-width="2" fill="none"/>
<path d="M845.1 136.48V150.88M837.9 143.68H852.3M838.09 136.67L852.11 150.68M838.09 150.68L852.11 136.67" stroke="#00009e" stroke-width="2.2" fill="none"/>
<path d="M874.61 119.41V133.81M867.41 126.61H881.81M867.6 119.6L881.62 133.62M867.6 133.62L881.62 119.6" stroke="#00009e" stroke-width="2.2" fill="none"/>
<path d="M904.12 94.41V108.81M896.92 101.61H911.32M897.11 94.6L911.13 108.61M897.11 108.61L911.13 94.6" stroke="#00009e" stroke-width="2.2" fill="none"/>
<path d="M933.63 79.99V94.39M926.43 87.19H940.83M926.62 80.18L940.64 94.2M926.62 94.2L940.64 80.18" stroke="#00009e" stroke-width="2.2" fill="none"/>
<path d="M963.14 120.59V134.99M955.94 127.79H970.34M956.13 120.78L970.15 134.8M956.13 134.8L970.15 120.78" stroke="#00009e" stroke-width="2.2" fill="none"/>
<path d="M992.65 215.32V229.72M985.45 222.52H999.85M985.64 215.51L999.66 229.53M985.64 229.53L999.66 215.51" stroke="#00009e" stroke-width="2.2" fill="none"/>
<path d="M992.65 250.62V265.02M985.45 257.82H999.85M985.64 250.81L999.66 264.83M985.64 264.83L999.66 250.81" stroke="#00009e" stroke-width="2.2" fill="none"/>
<path d="M1140.2 234.73V249.13M1133 241.93H1147.4M1133.19 234.93L1147.21 248.94M1133.19 248.94L1147.21 234.93" stroke="#00009e" stroke-width="2.2" fill="none"/>
<path d="M1140.2 242.38V256.78M1133 249.58H1147.4M1133.19 242.57L1147.21 256.59M1133.19 256.59L1147.21 242.57" stroke="#00009e" stroke-width="2.2" fill="none"/>
<path d="M1140.2 274.15V288.55M1133 281.35H1147.4M1133.19 274.35L1147.21 288.36M1133.19 288.36L1147.21 274.35" stroke="#00009e" stroke-width="2.2" fill="none"/>
<path d="M1140.2 293.87V308.27M1133 301.07H1147.4M1133.19 294.06L1147.21 308.07M1133.19 308.07L1147.21 294.06" stroke="#00009e" stroke-width="2.2" fill="none"/>
<path d="M1211.02 302.99V317.39M1203.82 310.19H1218.22M1204.02 303.18L1218.03 317.19M1204.02 317.19L1218.03 303.18" stroke="#00009e" stroke-width="2.2" fill="none"/>
<path d="M1287.75 267.68V282.08M1280.55 274.88H1294.95M1280.74 267.87L1294.76 281.89M1280.74 281.89L1294.76 267.87" stroke="#00009e" stroke-width="2.2" fill="none"/>
<path d="M1287.75 329.17V343.57M1280.55 336.37H1294.95M1280.74 329.36L1294.76 343.38M1280.74 343.38L1294.76 329.36" stroke="#00009e" stroke-width="2.2" fill="none"/>
<path d="M1287.75 375.36V389.76M1280.55 382.56H1294.95M1280.74 375.55L1294.76 389.56M1280.74 389.56L1294.76 375.55" stroke="#00009e" stroke-width="2.2" fill="none"/>
<path d="M1376.28 386.83V401.23M1369.08 394.03H1383.48M1369.27 387.02L1383.29 401.04M1369.27 401.04L1383.29 387.02" stroke="#00009e" stroke-width="2.2" fill="none"/>
<path d="M1376.28 390.36V404.76M1369.08 397.56H1383.48M1369.27 390.55L1383.29 404.57M1369.27 404.57L1383.29 390.55" stroke="#00009e" stroke-width="2.2" fill="none"/>
<path d="M1405.79 393.01V407.41M1398.59 400.21H1412.99M1398.78 393.2L1412.8 407.21M1398.78 407.21L1412.8 393.2" stroke="#00009e" stroke-width="2.2" fill="none"/>
<path d="M1405.79 396.24V410.64M1398.59 403.44H1412.99M1398.78 396.43L1412.8 410.45M1398.78 410.45L1412.8 396.43" stroke="#00009e" stroke-width="2.2" fill="none"/>
<path d="M1435.3 410.36V424.76M1428.1 417.56H1442.5M1428.29 410.56L1442.31 424.57M1428.29 424.57L1442.31 410.56" stroke="#00009e" stroke-width="2.2" fill="none"/>
<path d="M1435.3 423.31V437.71M1428.1 430.51H1442.5M1428.29 423.5L1442.31 437.52M1428.29 437.52L1442.31 423.5" stroke="#00009e" stroke-width="2.2" fill="none"/>
<rect x="898.84" y="110.74" width="10.56" height="10.56" stroke="#00dc00" stroke-width="2.2" fill="#fff" stroke-linejoin="round"/>
<rect x="957.86" y="91.03" width="10.56" height="10.56" stroke="#00dc00" stroke-width="2.2" fill="#fff" stroke-linejoin="round"/>
<rect x="1016.88" y="146.63" width="10.56" height="10.56" stroke="#00dc00" stroke-width="2.2" fill="#fff" stroke-linejoin="round"/>
<rect x="1252.96" y="324.62" width="10.56" height="10.56" stroke="#00dc00" stroke-width="2.2" fill="#fff" stroke-linejoin="round"/>
<rect x="1311.98" y="382.57" width="10.56" height="10.56" stroke="#00dc00" stroke-width="2.2" fill="#fff" stroke-linejoin="round"/>
<rect x="1371" y="341.09" width="10.56" height="10.56" stroke="#00dc00" stroke-width="2.2" fill="#fff" stroke-linejoin="round"/>
<path d="M1022.16 167.98L1029.65 181.23L1014.67 181.23Z" stroke="#000" stroke-width="2.2" fill="#fff" stroke-linejoin="round"/>
<path d="M1081.18 207.99L1088.67 221.24L1073.69 221.24Z" stroke="#000" stroke-width="2.2" fill="#fff" stroke-linejoin="round"/>
<path d="M1140.2 261.53L1147.69 274.78L1132.71 274.78Z" stroke="#000" stroke-width="2.2" fill="#fff" stroke-linejoin="round"/>
<path d="M1199.22 297.42L1206.71 310.67L1191.73 310.67Z" stroke="#000" stroke-width="2.2" fill="#fff" stroke-linejoin="round"/>
<path d="M1258.24 354.2L1265.73 367.45L1250.75 367.45Z" stroke="#000" stroke-width="2.2" fill="#fff" stroke-linejoin="round"/>
<circle cx="845.1" cy="143.68" r="6.43" stroke="#c80000" stroke-width="2.2" fill="#fff"/>
<circle cx="992.65" cy="171.62" r="6.43" stroke="#c80000" stroke-width="2.2" fill="#fff"/>
<circle cx="992.65" cy="242.52" r="6.43" stroke="#c80000" stroke-width="2.2" fill="#fff"/>
<circle cx="992.65" cy="266.65" r="6.43" stroke="#c80000" stroke-width="2.2" fill="#fff"/>
<circle cx="1140.2" cy="169.56" r="6.43" stroke="#c80000" stroke-width="2.2" fill="#fff"/>
<circle cx="1140.2" cy="177.51" r="6.43" stroke="#c80000" stroke-width="2.2" fill="#fff"/>
<circle cx="1140.2" cy="231.05" r="6.43" stroke="#c80000" stroke-width="2.2" fill="#fff"/>
<circle cx="1140.2" cy="278.71" r="6.43" stroke="#c80000" stroke-width="2.2" fill="#fff"/>
<circle cx="1140.2" cy="313.13" r="6.43" stroke="#c80000" stroke-width="2.2" fill="#fff"/>
<circle cx="1287.75" cy="287.53" r="6.43" stroke="#c80000" stroke-width="2.2" fill="#fff"/>
<circle cx="1287.75" cy="313.72" r="6.43" stroke="#c80000" stroke-width="2.2" fill="#fff"/>
<circle cx="1287.75" cy="362.55" r="6.43" stroke="#c80000" stroke-width="2.2" fill="#fff"/>
<circle cx="1435.3" cy="304.89" r="6.43" stroke="#c80000" stroke-width="2.2" fill="#fff"/>
<circle cx="1435.3" cy="375.49" r="6.43" stroke="#c80000" stroke-width="2.2" fill="#fff"/>
<circle cx="1435.3" cy="396.68" r="6.43" stroke="#c80000" stroke-width="2.2" fill="#fff"/>
<circle cx="1435.3" cy="400.79" r="6.43" stroke="#c80000" stroke-width="2.2" fill="#fff"/>
<circle cx="1435.3" cy="425.51" r="6.43" stroke="#c80000" stroke-width="2.2" fill="#fff"/>
<path d="M845.1 136.86L846.77 141.66L851.86 141.77L847.8 144.84L849.28 149.71L845.1 146.8L840.92 149.71L842.4 144.84L838.34 141.77L843.43 141.66Z" stroke="#800088" stroke-width="2.2" fill="#fff" stroke-linejoin="round"/>
<path d="M904.12 166.57L905.79 171.38L910.88 171.48L906.82 174.55L908.3 179.42L904.12 176.52L899.94 179.42L901.42 174.55L897.36 171.48L902.45 171.38Z" stroke="#800088" stroke-width="2.2" fill="#fff" stroke-linejoin="round"/>
<path d="M904.12 204.23L905.79 209.03L910.88 209.14L906.82 212.21L908.3 217.08L904.12 214.17L899.94 217.08L901.42 212.21L897.36 209.14L902.45 209.03Z" stroke="#800088" stroke-width="2.2" fill="#fff" stroke-linejoin="round"/>
<path d="M904.12 229.23L905.79 234.04L910.88 234.14L906.82 237.22L908.3 242.09L904.12 239.18L899.94 242.09L901.42 237.22L897.36 234.14L902.45 234.04Z" stroke="#800088" stroke-width="2.2" fill="#fff" stroke-linejoin="round"/>
<path d="M963.14 181.58L964.81 186.38L969.9 186.48L965.84 189.56L967.32 194.43L963.14 191.52L958.96 194.43L960.44 189.56L956.38 186.48L961.47 186.38Z" stroke="#800088" stroke-width="2.2" fill="#fff" stroke-linejoin="round"/>
<path d="M963.14 207.76L964.81 212.56L969.9 212.67L965.84 215.74L967.32 220.61L963.14 217.7L958.96 220.61L960.44 215.74L956.38 212.67L961.47 212.56Z" stroke="#800088" stroke-width="2.2" fill="#fff" stroke-linejoin="round"/>
<path d="M963.14 238.35L964.81 243.16L969.9 243.26L965.84 246.34L967.32 251.2L963.14 248.3L958.96 251.2L960.44 246.34L956.38 243.26L961.47 243.16Z" stroke="#800088" stroke-width="2.2" fill="#fff" stroke-linejoin="round"/>
<path d="M1022.16 204.82L1023.83 209.62L1028.92 209.73L1024.86 212.8L1026.34 217.67L1022.16 214.76L1017.98 217.67L1019.46 212.8L1015.4 209.73L1020.49 209.62Z" stroke="#800088" stroke-width="2.2" fill="#fff" stroke-linejoin="round"/>
<path d="M1022.16 219.53L1023.83 224.33L1028.92 224.43L1024.86 227.51L1026.34 232.38L1022.16 229.47L1017.98 232.38L1019.46 227.51L1015.4 224.43L1020.49 224.33Z" stroke="#800088" stroke-width="2.2" fill="#fff" stroke-linejoin="round"/>
<path d="M1022.16 244.53L1023.83 249.34L1028.92 249.44L1024.86 252.51L1026.34 257.38L1022.16 254.48L1017.98 257.38L1019.46 252.51L1015.4 249.44L1020.49 249.34Z" stroke="#800088" stroke-width="2.2" fill="#fff" stroke-linejoin="round"/>
<path d="M1081.18 291.01L1082.85 295.82L1087.94 295.92L1083.88 299L1085.36 303.86L1081.18 300.96L1077 303.86L1078.48 299L1074.42 295.92L1079.51 295.82Z" stroke="#800088" stroke-width="2.2" fill="#fff" stroke-linejoin="round"/>
<path d="M1081.18 298.07L1082.85 302.88L1087.94 302.98L1083.88 306.06L1085.36 310.93L1081.18 308.02L1077 310.93L1078.48 306.06L1074.42 302.98L1079.51 302.88Z" stroke="#800088" stroke-width="2.2" fill="#fff" stroke-linejoin="round"/>
<path d="M1081.18 312.78L1082.85 317.59L1087.94 317.69L1083.88 320.77L1085.36 325.63L1081.18 322.73L1077 325.63L1078.48 320.77L1074.42 317.69L1079.51 317.59Z" stroke="#800088" stroke-width="2.2" fill="#fff" stroke-linejoin="round"/>
<path d="M1140.2 237.77L1141.87 242.57L1146.96 242.67L1142.9 245.75L1144.38 250.62L1140.2 247.71L1136.02 250.62L1137.5 245.75L1133.44 242.67L1138.53 242.57Z" stroke="#800088" stroke-width="2.2" fill="#fff" stroke-linejoin="round"/>
<path d="M1140.2 245.71L1141.87 250.51L1146.96 250.62L1142.9 253.69L1144.38 258.56L1140.2 255.65L1136.02 258.56L1137.5 253.69L1133.44 250.62L1138.53 250.51Z" stroke="#800088" stroke-width="2.2" fill="#fff" stroke-linejoin="round"/>
<path d="M1140.2 254.53L1141.87 259.34L1146.96 259.44L1142.9 262.52L1144.38 267.39L1140.2 264.48L1136.02 267.39L1137.5 262.52L1133.44 259.44L1138.53 259.34Z" stroke="#800088" stroke-width="2.2" fill="#fff" stroke-linejoin="round"/>
<path d="M1199.22 236.29L1200.89 241.1L1205.98 241.2L1201.92 244.28L1203.4 249.15L1199.22 246.24L1195.04 249.15L1196.52 244.28L1192.46 241.2L1197.55 241.1Z" stroke="#800088" stroke-width="2.2" fill="#fff" stroke-linejoin="round"/>
<path d="M1199.22 252.47L1200.89 257.28L1205.98 257.38L1201.92 260.46L1203.4 265.33L1199.22 262.42L1195.04 265.33L1196.52 260.46L1192.46 257.38L1197.55 257.28Z" stroke="#800088" stroke-width="2.2" fill="#fff" stroke-linejoin="round"/>
<path d="M1199.22 260.42L1200.89 265.22L1205.98 265.33L1201.92 268.4L1203.4 273.27L1199.22 270.36L1195.04 273.27L1196.52 268.4L1192.46 265.33L1197.55 265.22Z" stroke="#800088" stroke-width="2.2" fill="#fff" stroke-linejoin="round"/>
<path d="M1258.24 358.38L1259.91 363.19L1265 363.29L1260.94 366.36L1262.42 371.23L1258.24 368.33L1254.06 371.23L1255.54 366.36L1251.48 363.29L1256.57 363.19Z" stroke="#800088" stroke-width="2.2" fill="#fff" stroke-linejoin="round"/>
<path d="M1317.26 391.33L1318.93 396.14L1324.02 396.24L1319.96 399.31L1321.44 404.18L1317.26 401.28L1313.08 404.18L1314.56 399.31L1310.5 396.24L1315.59 396.14Z" stroke="#800088" stroke-width="2.2" fill="#fff" stroke-linejoin="round"/>
<path d="M1317.26 398.69L1318.93 403.49L1324.02 403.59L1319.96 406.67L1321.44 411.54L1317.26 408.63L1313.08 411.54L1314.56 406.67L1310.5 403.59L1315.59 403.49Z" stroke="#800088" stroke-width="2.2" fill="#fff" stroke-linejoin="round"/>
<path d="M1376.28 412.22L1377.95 417.02L1383.04 417.13L1378.98 420.2L1380.46 425.07L1376.28 422.16L1372.1 425.07L1373.58 420.2L1369.52 417.13L1374.61 417.02Z" stroke="#800088" stroke-width="2.2" fill="#fff" stroke-linejoin="round"/>
<path d="M1376.28 419.57L1377.95 424.38L1383.04 424.48L1378.98 427.56L1380.46 432.42L1376.28 429.52L1372.1 432.42L1373.58 427.56L1369.52 424.48L1374.61 424.38Z" stroke="#800088" stroke-width="2.2" fill="#fff" stroke-linejoin="round"/>
<path d="M1435.3 416.04L1436.97 420.85L1442.06 420.95L1438 424.03L1439.48 428.89L1435.3 425.99L1431.12 428.89L1432.6 424.03L1428.54 420.95L1433.63 420.85Z" stroke="#800088" stroke-width="2.2" fill="#fff" stroke-linejoin="round"/>
<path d="M1435.3 421.34L1436.97 426.14L1442.06 426.25L1438 429.32L1439.48 434.19L1435.3 431.28L1431.12 434.19L1432.6 429.32L1428.54 426.25L1433.63 426.14Z" stroke="#800088" stroke-width="2.2" fill="#fff" stroke-linejoin="round"/>
<path d="M1435.3 425.16L1436.97 429.97L1442.06 430.07L1438 433.14L1439.48 438.01L1435.3 435.11L1431.12 438.01L1432.6 433.14L1428.54 430.07L1433.63 429.97Z" stroke="#800088" stroke-width="2.2" fill="#fff" stroke-linejoin="round"/>
<rect x="874.61" y="28.6" width="147.55" height="467.1" fill="rgb(250,230,192)" fill-opacity="0.4"/>
<text x="943.9" y="52.6" font-family="'Liberation Serif',serif" font-style="italic" font-size="20.4" text-anchor="middle" fill="#222">5%-30%</text>
<text transform="translate(845.1 522.5) scale(1.04 1)" font-size="19.5" text-anchor="middle">0</text>
<text transform="translate(963.14 522.5) scale(1.04 1)" font-size="19.5" text-anchor="middle">20</text>
<text transform="translate(1081.18 522.5) scale(1.04 1)" font-size="19.5" text-anchor="middle">40</text>
<text transform="translate(1199.22 522.5) scale(1.04 1)" font-size="19.5" text-anchor="middle">60</text>
<text transform="translate(1317.26 522.5) scale(1.04 1)" font-size="19.5" text-anchor="middle">80</text>
<text transform="translate(1435.3 522.5) scale(1.04 1)" font-size="19.5" text-anchor="middle">100</text>
<text transform="translate(835.25 502.28) scale(1.04 1)" font-size="19.5" text-anchor="end">-20</text>
<text transform="translate(835.25 443.44) scale(1.04 1)" font-size="19.5" text-anchor="end">0</text>
<text transform="translate(835.25 384.61) scale(1.04 1)" font-size="19.5" text-anchor="end">20</text>
<text transform="translate(835.25 325.77) scale(1.04 1)" font-size="19.5" text-anchor="end">40</text>
<text transform="translate(835.25 266.93) scale(1.04 1)" font-size="19.5" text-anchor="end">60</text>
<text transform="translate(835.25 208.09) scale(1.04 1)" font-size="19.5" text-anchor="end">80</text>
<text transform="translate(835.25 149.26) scale(1.04 1)" font-size="19.5" text-anchor="end">100</text>
<text transform="translate(835.25 90.42) scale(1.04 1)" font-size="19.5" text-anchor="end">120</text>
<text transform="translate(835.25 31.58) scale(1.04 1)" font-size="19.5" text-anchor="end">140</text>
<text x="1140" y="562" font-size="25" font-weight="bold" text-anchor="middle" textLength="249.4" lengthAdjust="spacingAndGlyphs">Substitution ratio (%)</text>
<text transform="translate(792.1 261.3) rotate(-90)" font-size="24.4" font-weight="bold" text-anchor="middle" textLength="385.6" lengthAdjust="spacingAndGlyphs">Relative compressive stregth (%)</text>
<rect x="1262.5" y="39.5" width="158" height="140" fill="#fff" stroke="#2a2a2a" stroke-width="1"/>
<path d="M1290.5 47.8V62.2M1283.3 55H1297.7M1283.49 47.99L1297.51 62.01M1283.49 62.01L1297.51 47.99" stroke="#00009e" stroke-width="2.2" fill="none"/>
<text x="1320.4" y="63.02" font-size="22.4">Copper</text>
<rect x="1285.22" y="76.82" width="10.56" height="10.56" stroke="#00dc00" stroke-width="2.2" fill="#fff" stroke-linejoin="round"/>
<text x="1320.4" y="90.12" font-size="22.4">Gold</text>
<path d="M1290.5 100.85L1297.99 114.1L1283.01 114.1Z" stroke="#000" stroke-width="2.2" fill="#fff" stroke-linejoin="round"/>
<text x="1320.4" y="117.22" font-size="22.4">Iron</text>
<circle cx="1290.5" cy="136.3" r="6.43" stroke="#c80000" stroke-width="2.2" fill="#fff"/>
<text x="1320.4" y="144.32" font-size="22.4">Lead-zinc</text>
<path d="M1290.5 156.58L1292.17 161.39L1297.26 161.49L1293.2 164.57L1294.68 169.44L1290.5 166.53L1286.32 169.44L1287.8 164.57L1283.74 161.49L1288.83 161.39Z" stroke="#800088" stroke-width="2.2" fill="#fff" stroke-linejoin="round"/>
<text x="1320.4" y="171.42" font-size="22.4">Tungsten</text>
<text x="1146.7" y="626.2" font-size="24" font-family="'Liberation Serif',serif" text-anchor="middle" textLength="213.6" lengthAdjust="spacingAndGlyphs">(b) Precursor in AAM</text>
</g>
<g>
<path d="M101.5 1160.8V1151.3M216.92 1160.8V1151.3M332.34 1160.8V1151.3M447.76 1160.8V1151.3M563.18 1160.8V1151.3M678.6 1160.8V1151.3M124.58 1160.8V1155.8M147.67 1160.8V1155.8M170.75 1160.8V1155.8M193.84 1160.8V1155.8M240 1160.8V1155.8M263.09 1160.8V1155.8M286.17 1160.8V1155.8M309.26 1160.8V1155.8M355.42 1160.8V1155.8M378.51 1160.8V1155.8M401.59 1160.8V1155.8M424.68 1160.8V1155.8M470.84 1160.8V1155.8M493.93 1160.8V1155.8M517.01 1160.8V1155.8M540.1 1160.8V1155.8M586.26 1160.8V1155.8M609.35 1160.8V1155.8M632.43 1160.8V1155.8M655.52 1160.8V1155.8M101.5 1160.8H111M101.5 1112.76H111M101.5 1064.72H111M101.5 1016.68H111M101.5 968.64H111M101.5 920.6H111M101.5 872.56H111M101.5 824.52H111M101.5 776.48H111M101.5 728.44H111M101.5 680.4H111M101.5 1151.19H106.5M101.5 1141.58H106.5M101.5 1131.98H106.5M101.5 1122.37H106.5M101.5 1103.15H106.5M101.5 1093.54H106.5M101.5 1083.94H106.5M101.5 1074.33H106.5M101.5 1055.11H106.5M101.5 1045.5H106.5M101.5 1035.9H106.5M101.5 1026.29H106.5M101.5 1007.07H106.5M101.5 997.46H106.5M101.5 987.86H106.5M101.5 978.25H106.5M101.5 959.03H106.5M101.5 949.42H106.5M101.5 939.82H106.5M101.5 930.21H106.5M101.5 910.99H106.5M101.5 901.38H106.5M101.5 891.78H106.5M101.5 882.17H106.5M101.5 862.95H106.5M101.5 853.34H106.5M101.5 843.74H106.5M101.5 834.13H106.5M101.5 814.91H106.5M101.5 805.3H106.5M101.5 795.7H106.5M101.5 786.09H106.5M101.5 766.87H106.5M101.5 757.26H106.5M101.5 747.66H106.5M101.5 738.05H106.5M101.5 718.83H106.5M101.5 709.22H106.5M101.5 699.62H106.5M101.5 690.01H106.5" stroke="#000" stroke-width="2" fill="none"/>
<rect x="101.5" y="680.4" width="577.1" height="480.4" stroke="#000" stroke-width="2" fill="none"/>
<path d="M101.5 865.51V879.61M94.45 872.56H108.55M94.64 865.7L108.36 879.42M94.64 879.42L108.36 865.7" stroke="#00009e" stroke-width="2.3" fill="none"/>
<path d="M130.36 727.15V741.25M123.31 734.2H137.41M123.49 727.34L137.22 741.07M123.49 741.07L137.22 727.34" stroke="#00009e" stroke-width="2.3" fill="none"/>
<path d="M130.36 741.81V755.91M123.31 748.86H137.41M123.49 742L137.22 755.72M123.49 755.72L137.22 742" stroke="#00009e" stroke-width="2.3" fill="none"/>
<path d="M130.36 767.75V781.85M123.31 774.8H137.41M123.49 767.94L137.22 781.66M123.49 781.66L137.22 767.94" stroke="#00009e" stroke-width="2.3" fill="none"/>
<path d="M130.36 769.91V784.01M123.31 776.96H137.41M123.49 770.1L137.22 783.82M123.49 783.82L137.22 770.1" stroke="#00009e" stroke-width="2.3" fill="none"/>
<path d="M130.36 852.54V866.64M123.31 859.59H137.41M123.49 852.73L137.22 866.45M123.49 866.45L137.22 852.73" stroke="#00009e" stroke-width="2.3" fill="none"/>
<path d="M130.36 863.11V877.21M123.31 870.16H137.41M123.49 863.3L137.22 877.02M123.49 877.02L137.22 863.3" stroke="#00009e" stroke-width="2.3" fill="none"/>
<path d="M130.36 878.48V892.58M123.31 885.53H137.41M123.49 878.67L137.22 892.39M123.49 892.39L137.22 878.67" stroke="#00009e" stroke-width="2.3" fill="none"/>
<path d="M130.36 884.73V898.83M123.31 891.78H137.41M123.49 884.91L137.22 898.64M123.49 898.64L137.22 884.91" stroke="#00009e" stroke-width="2.3" fill="none"/>
<path d="M159.21 736.04V750.14M152.16 743.09H166.26M152.35 736.23L166.07 749.95M152.35 749.95L166.07 736.23" stroke="#00009e" stroke-width="2.3" fill="none"/>
<path d="M159.21 765.83V779.93M152.16 772.88H166.26M152.35 766.01L166.07 779.74M152.35 779.74L166.07 766.01" stroke="#00009e" stroke-width="2.3" fill="none"/>
<path d="M159.21 820.11V834.21M152.16 827.16H166.26M152.35 820.3L166.07 834.02M152.35 834.02L166.07 820.3" stroke="#00009e" stroke-width="2.3" fill="none"/>
<path d="M159.21 829V843.1M152.16 836.05H166.26M152.35 829.19L166.07 842.91M152.35 842.91L166.07 829.19" stroke="#00009e" stroke-width="2.3" fill="none"/>
<path d="M159.21 849.9V864M152.16 856.95H166.26M152.35 850.09L166.07 863.81M152.35 863.81L166.07 850.09" stroke="#00009e" stroke-width="2.3" fill="none"/>
<path d="M188.06 836.69V850.79M181.01 843.74H195.12M181.2 836.87L194.93 850.6M181.2 850.6L194.93 836.87" stroke="#00009e" stroke-width="2.3" fill="none"/>
<path d="M188.06 840.29V854.39M181.01 847.34H195.12M181.2 840.48L194.93 854.2M181.2 854.2L194.93 840.48" stroke="#00009e" stroke-width="2.3" fill="none"/>
<path d="M216.92 821.07V835.17M209.87 828.12H223.97M210.06 821.26L223.78 834.99M210.06 834.99L223.78 821.26" stroke="#00009e" stroke-width="2.3" fill="none"/>
<path d="M216.92 827.32V841.42M209.87 834.37H223.97M210.06 827.51L223.78 841.23M210.06 841.23L223.78 827.51" stroke="#00009e" stroke-width="2.3" fill="none"/>
<path d="M245.78 829V843.1M238.72 836.05H252.83M238.91 829.19L252.64 842.91M238.91 842.91L252.64 829.19" stroke="#00009e" stroke-width="2.3" fill="none"/>
<path d="M245.78 841.97V856.07M238.72 849.02H252.83M238.91 842.16L252.64 855.88M238.91 855.88L252.64 842.16" stroke="#00009e" stroke-width="2.3" fill="none"/>
<path d="M274.63 839.81V853.91M267.58 846.86H281.68M267.77 840L281.49 853.72M267.77 853.72L281.49 840" stroke="#00009e" stroke-width="2.3" fill="none"/>
<path d="M274.63 852.54V866.64M267.58 859.59H281.68M267.77 852.73L281.49 866.45M267.77 866.45L281.49 852.73" stroke="#00009e" stroke-width="2.3" fill="none"/>
<path d="M101.5 864.82L103.4 870.28L109.17 870.39L104.57 873.88L106.24 879.42L101.5 876.11L96.76 879.42L98.43 873.88L93.83 870.39L99.6 870.28Z" stroke="#8000ff" stroke-width="2.3" fill="#fff" stroke-linejoin="round"/>
<path d="M130.36 856.89L132.25 862.35L138.03 862.47L133.42 865.96L135.1 871.49L130.36 868.19L125.61 871.49L127.29 865.96L122.68 862.47L128.46 862.35Z" stroke="#8000ff" stroke-width="2.3" fill="#fff" stroke-linejoin="round"/>
<path d="M130.36 866.5L132.25 871.96L138.03 872.08L133.42 875.57L135.1 881.1L130.36 877.8L125.61 881.1L127.29 875.57L122.68 872.08L128.46 871.96Z" stroke="#8000ff" stroke-width="2.3" fill="#fff" stroke-linejoin="round"/>
<path d="M159.21 845.6L161.11 851.06L166.88 851.18L162.28 854.67L163.95 860.2L159.21 856.9L154.47 860.2L156.14 854.67L151.54 851.18L157.31 851.06Z" stroke="#8000ff" stroke-width="2.3" fill="#fff" stroke-linejoin="round"/>
<path d="M159.21 848L161.11 853.46L166.88 853.58L162.28 857.07L163.95 862.6L159.21 859.3L154.47 862.6L156.14 857.07L151.54 853.58L157.31 853.46Z" stroke="#8000ff" stroke-width="2.3" fill="#fff" stroke-linejoin="round"/>
<path d="M188.06 840.32L189.96 845.78L195.74 845.89L191.13 849.38L192.81 854.91L188.06 851.61L183.32 854.91L185 849.38L180.39 845.89L186.17 845.78Z" stroke="#8000ff" stroke-width="2.3" fill="#fff" stroke-linejoin="round"/>
<path d="M188.06 842.48L189.96 847.94L195.74 848.06L191.13 851.55L192.81 857.08L188.06 853.78L183.32 857.08L185 851.55L180.39 848.06L186.17 847.94Z" stroke="#8000ff" stroke-width="2.3" fill="#fff" stroke-linejoin="round"/>
<path d="M216.92 815.1L218.82 820.55L224.59 820.67L219.99 824.16L221.66 829.69L216.92 826.39L212.18 829.69L213.85 824.16L209.25 820.67L215.02 820.55Z" stroke="#8000ff" stroke-width="2.3" fill="#fff" stroke-linejoin="round"/>
<path d="M216.92 823.02L218.82 828.48L224.59 828.6L219.99 832.09L221.66 837.62L216.92 834.32L212.18 837.62L213.85 832.09L209.25 828.6L215.02 828.48Z" stroke="#8000ff" stroke-width="2.3" fill="#fff" stroke-linejoin="round"/>
<text transform="translate(101.5 1187.4) scale(0.99 1)" font-size="20" text-anchor="middle">0</text>
<text transform="translate(216.92 1187.4) scale(0.99 1)" font-size="20" text-anchor="middle">20</text>
<text transform="translate(332.34 1187.4) scale(0.99 1)" font-size="20" text-anchor="middle">40</text>
<text transform="translate(447.76 1187.4) scale(0.99 1)" font-size="20" text-anchor="middle">60</text>
<text transform="translate(563.18 1187.4) scale(0.99 1)" font-size="20" text-anchor="middle">80</text>
<text transform="translate(678.6 1187.4) scale(0.99 1)" font-size="20" text-anchor="middle">100</text>
<text transform="translate(91.75 1167.16) scale(0.99 1)" font-size="20" text-anchor="end">-20</text>
<text transform="translate(91.75 1119.12) scale(0.99 1)" font-size="20" text-anchor="end">0</text>
<text transform="translate(91.75 1071.08) scale(0.99 1)" font-size="20" text-anchor="end">20</text>
<text transform="translate(91.75 1023.04) scale(0.99 1)" font-size="20" text-anchor="end">40</text>
<text transform="translate(91.75 975) scale(0.99 1)" font-size="20" text-anchor="end">60</text>
<text transform="translate(91.75 926.96) scale(0.99 1)" font-size="20" text-anchor="end">80</text>
<text transform="translate(91.75 878.92) scale(0.99 1)" font-size="20" text-anchor="end">100</text>
<text transform="translate(91.75 830.88) scale(0.99 1)" font-size="20" text-anchor="end">120</text>
<text transform="translate(91.75 782.84) scale(0.99 1)" font-size="20" text-anchor="end">140</text>
<text transform="translate(91.75 734.8) scale(0.99 1)" font-size="20" text-anchor="end">160</text>
<text transform="translate(91.75 686.76) scale(0.99 1)" font-size="20" text-anchor="end">180</text>
<text x="389.5" y="1226" font-size="23.5" font-weight="bold" text-anchor="middle" textLength="201.4" lengthAdjust="spacingAndGlyphs">Addition ratio (%)</text>
<text transform="translate(45.9 921) rotate(-90)" font-size="24.3" font-weight="bold" text-anchor="middle" textLength="391.3" lengthAdjust="spacingAndGlyphs">Relative compressive stregth (%)</text>
<rect x="476.5" y="996.5" width="186" height="142" fill="#fff" stroke="#2a2a2a" stroke-width="1"/>
<path d="M504.1 1004.48V1018.73M496.98 1011.6H511.23M497.17 1004.66L511.04 1018.54M497.17 1018.54L511.04 1004.66" stroke="#00009e" stroke-width="2.3" fill="none"/>
<text x="534.8" y="1019.4" font-size="21.8">Copper</text>
<rect x="498.88" y="1034.23" width="10.45" height="10.45" stroke="#00dc00" stroke-width="2.3" fill="#fff" stroke-linejoin="round"/>
<text x="534.8" y="1047.25" font-size="21.8">Gold</text>
<path d="M504.1 1059.03L511.51 1072.14L496.69 1072.14Z" stroke="#000" stroke-width="2.3" fill="#fff" stroke-linejoin="round"/>
<text x="534.8" y="1075.1" font-size="21.8">Iron</text>
<circle cx="504.1" cy="1095.15" r="6.37" stroke="#c80000" stroke-width="2.3" fill="#fff"/>
<text x="534.8" y="1102.95" font-size="21.8">Lead-Zinc</text>
<path d="M504.1 1115.58L505.92 1120.81L511.45 1120.92L507.04 1124.27L508.65 1129.57L504.1 1126.41L499.55 1129.57L501.16 1124.27L496.75 1120.92L502.28 1120.81Z" stroke="#8000ff" stroke-width="2.3" fill="#fff" stroke-linejoin="round"/>
<text x="534.8" y="1130.8" font-size="21.8">Molybdenum</text>
<text x="380.1" y="1271.1" font-size="24" font-family="'Liberation Serif',serif" text-anchor="middle" textLength="374" lengthAdjust="spacingAndGlyphs">(c) Additive in Portland/blended CBM</text>
</g>
<g>
<path d="M855.1 1159.6V1150.1M971.24 1159.6V1150.1M1087.38 1159.6V1150.1M1203.52 1159.6V1150.1M1319.66 1159.6V1150.1M1435.8 1159.6V1150.1M878.33 1159.6V1154.6M901.56 1159.6V1154.6M924.78 1159.6V1154.6M948.01 1159.6V1154.6M994.47 1159.6V1154.6M1017.7 1159.6V1154.6M1040.92 1159.6V1154.6M1064.15 1159.6V1154.6M1110.61 1159.6V1154.6M1133.84 1159.6V1154.6M1157.06 1159.6V1154.6M1180.29 1159.6V1154.6M1226.75 1159.6V1154.6M1249.98 1159.6V1154.6M1273.2 1159.6V1154.6M1296.43 1159.6V1154.6M1342.89 1159.6V1154.6M1366.12 1159.6V1154.6M1389.34 1159.6V1154.6M1412.57 1159.6V1154.6M855.1 1159.6H864.6M855.1 1111.36H864.6M855.1 1063.12H864.6M855.1 1014.88H864.6M855.1 966.64H864.6M855.1 918.4H864.6M855.1 870.16H864.6M855.1 821.92H864.6M855.1 773.68H864.6M855.1 725.44H864.6M855.1 677.2H864.6M855.1 1149.95H860.1M855.1 1140.3H860.1M855.1 1130.66H860.1M855.1 1121.01H860.1M855.1 1101.71H860.1M855.1 1092.06H860.1M855.1 1082.42H860.1M855.1 1072.77H860.1M855.1 1053.47H860.1M855.1 1043.82H860.1M855.1 1034.18H860.1M855.1 1024.53H860.1M855.1 1005.23H860.1M855.1 995.58H860.1M855.1 985.94H860.1M855.1 976.29H860.1M855.1 956.99H860.1M855.1 947.34H860.1M855.1 937.7H860.1M855.1 928.05H860.1M855.1 908.75H860.1M855.1 899.1H860.1M855.1 889.46H860.1M855.1 879.81H860.1M855.1 860.51H860.1M855.1 850.86H860.1M855.1 841.22H860.1M855.1 831.57H860.1M855.1 812.27H860.1M855.1 802.62H860.1M855.1 792.98H860.1M855.1 783.33H860.1M855.1 764.03H860.1M855.1 754.38H860.1M855.1 744.74H860.1M855.1 735.09H860.1M855.1 715.79H860.1M855.1 706.14H860.1M855.1 696.5H860.1M855.1 686.85H860.1" stroke="#000" stroke-width="2" fill="none"/>
<rect x="855.1" y="677.2" width="580.7" height="482.4" stroke="#000" stroke-width="2" fill="none"/>
<path d="M855.1 863.11V877.21M848.05 870.16H862.15M848.24 863.3L861.96 877.02M848.24 877.02L861.96 863.3" stroke="#00009e" stroke-width="2.3" fill="none"/>
<path d="M913.17 817.88V831.98M906.12 824.93H920.22M906.31 818.07L920.03 831.8M906.31 831.8L920.03 818.07" stroke="#00009e" stroke-width="2.3" fill="none"/>
<path d="M913.17 824.52V838.62M906.12 831.57H920.22M906.31 824.71L920.03 838.43M906.31 838.43L920.03 824.71" stroke="#00009e" stroke-width="2.3" fill="none"/>
<path d="M913.17 830.07V844.17M906.12 837.12H920.22M906.31 830.25L920.03 843.98M906.31 843.98L920.03 830.25" stroke="#00009e" stroke-width="2.3" fill="none"/>
<path d="M913.17 846.23V860.33M906.12 853.28H920.22M906.31 846.41L920.03 860.14M906.31 860.14L920.03 846.41" stroke="#00009e" stroke-width="2.3" fill="none"/>
<path d="M913.17 854.19V868.29M906.12 861.24H920.22M906.31 854.37L920.03 868.1M906.31 868.1L920.03 854.37" stroke="#00009e" stroke-width="2.3" fill="none"/>
<path d="M913.17 862.15V876.25M906.12 869.2H920.22M906.31 862.33L920.03 876.06M906.31 876.06L920.03 862.33" stroke="#00009e" stroke-width="2.3" fill="none"/>
<path d="M971.24 825.97V840.07M964.19 833.02H978.29M964.38 826.15L978.1 839.88M964.38 839.88L978.1 826.15" stroke="#00009e" stroke-width="2.3" fill="none"/>
<path d="M971.24 834.17V848.27M964.19 841.22H978.29M964.38 834.35L978.1 848.08M964.38 848.08L978.1 834.35" stroke="#00009e" stroke-width="2.3" fill="none"/>
<path d="M971.24 842.13V856.23M964.19 849.18H978.29M964.38 842.31L978.1 856.04M964.38 856.04L978.1 842.31" stroke="#00009e" stroke-width="2.3" fill="none"/>
<path d="M971.24 850.09V864.19M964.19 857.14H978.29M964.38 850.27L978.1 864M964.38 864L978.1 850.27" stroke="#00009e" stroke-width="2.3" fill="none"/>
<path d="M971.24 860.7V874.8M964.19 867.75H978.29M964.38 860.89L978.1 874.61M964.38 874.61L978.1 860.89" stroke="#00009e" stroke-width="2.3" fill="none"/>
<path d="M1029.31 817.88V831.98M1022.26 824.93H1036.36M1022.45 818.07L1036.17 831.8M1022.45 831.8L1036.17 818.07" stroke="#00009e" stroke-width="2.3" fill="none"/>
<path d="M1029.31 827.89V841.99M1022.26 834.94H1036.36M1022.45 828.08L1036.17 841.81M1022.45 841.81L1036.17 828.08" stroke="#00009e" stroke-width="2.3" fill="none"/>
<path d="M1029.31 838.03V852.13M1022.26 845.08H1036.36M1022.45 838.21L1036.17 851.94M1022.45 851.94L1036.17 838.21" stroke="#00009e" stroke-width="2.3" fill="none"/>
<path d="M1029.31 842.13V856.23M1022.26 849.18H1036.36M1022.45 842.31L1036.17 856.04M1022.45 856.04L1036.17 842.31" stroke="#00009e" stroke-width="2.3" fill="none"/>
<path d="M1029.31 862.15V876.25M1022.26 869.2H1036.36M1022.45 862.33L1036.17 876.06M1022.45 876.06L1036.17 862.33" stroke="#00009e" stroke-width="2.3" fill="none"/>
<path d="M1029.31 866.12V880.22M1022.26 873.17H1036.36M1022.45 866.31L1036.17 880.04M1022.45 880.04L1036.17 866.31" stroke="#00009e" stroke-width="2.3" fill="none"/>
<path d="M1029.31 870.35V884.45M1022.26 877.4H1036.36M1022.45 870.53L1036.17 884.26M1022.45 884.26L1036.17 870.53" stroke="#00009e" stroke-width="2.3" fill="none"/>
<path d="M1087.38 837.06V851.16M1080.33 844.11H1094.43M1080.52 837.25L1094.24 850.97M1080.52 850.97L1094.24 837.25" stroke="#00009e" stroke-width="2.3" fill="none"/>
<path d="M1087.38 840.92V855.02M1080.33 847.97H1094.43M1080.52 841.11L1094.24 854.83M1080.52 854.83L1094.24 841.11" stroke="#00009e" stroke-width="2.3" fill="none"/>
<path d="M1087.38 865.52V879.62M1080.33 872.57H1094.43M1080.52 865.71L1094.24 879.43M1080.52 879.43L1094.24 865.71" stroke="#00009e" stroke-width="2.3" fill="none"/>
<path d="M1087.38 870.35V884.45M1080.33 877.4H1094.43M1080.52 870.53L1094.24 884.26M1080.52 884.26L1094.24 870.53" stroke="#00009e" stroke-width="2.3" fill="none"/>
<path d="M1087.38 877.58V891.68M1080.33 884.63H1094.43M1080.52 877.77L1094.24 891.49M1080.52 891.49L1094.24 877.77" stroke="#00009e" stroke-width="2.3" fill="none"/>
<path d="M1087.38 881.2V895.3M1080.33 888.25H1094.43M1080.52 881.39L1094.24 895.11M1080.52 895.11L1094.24 881.39" stroke="#00009e" stroke-width="2.3" fill="none"/>
<path d="M1145.45 846.23V860.33M1138.4 853.28H1152.5M1138.59 846.41L1152.31 860.14M1138.59 860.14L1152.31 846.41" stroke="#00009e" stroke-width="2.3" fill="none"/>
<path d="M1145.45 851.05V865.15M1138.4 858.1H1152.5M1138.59 851.24L1152.31 864.96M1138.59 864.96L1152.31 851.24" stroke="#00009e" stroke-width="2.3" fill="none"/>
<path d="M1145.45 855.87V869.97M1138.4 862.92H1152.5M1138.59 856.06L1152.31 869.79M1138.59 869.79L1152.31 856.06" stroke="#00009e" stroke-width="2.3" fill="none"/>
<path d="M1145.45 872.76V886.86M1138.4 879.81H1152.5M1138.59 872.95L1152.31 886.67M1138.59 886.67L1152.31 872.95" stroke="#00009e" stroke-width="2.3" fill="none"/>
<path d="M1145.45 877.58V891.68M1138.4 884.63H1152.5M1138.59 877.77L1152.31 891.49M1138.59 891.49L1152.31 877.77" stroke="#00009e" stroke-width="2.3" fill="none"/>
<path d="M1145.45 882.41V896.51M1138.4 889.46H1152.5M1138.59 882.59L1152.31 896.32M1138.59 896.32L1152.31 882.59" stroke="#00009e" stroke-width="2.3" fill="none"/>
<path d="M1203.52 853.46V867.56M1196.47 860.51H1210.57M1196.66 853.65L1210.38 867.37M1196.66 867.37L1210.38 853.65" stroke="#00009e" stroke-width="2.3" fill="none"/>
<path d="M1203.52 884.82V898.92M1196.47 891.87H1210.57M1196.66 885.01L1210.38 898.73M1196.66 898.73L1210.38 885.01" stroke="#00009e" stroke-width="2.3" fill="none"/>
<path d="M1203.52 889.64V903.74M1196.47 896.69H1210.57M1196.66 889.83L1210.38 903.55M1196.66 903.55L1210.38 889.83" stroke="#00009e" stroke-width="2.3" fill="none"/>
<path d="M1203.52 892.78V906.88M1196.47 899.83H1210.57M1196.66 892.97L1210.38 906.69M1196.66 906.69L1210.38 892.97" stroke="#00009e" stroke-width="2.3" fill="none"/>
<rect x="849.93" y="864.99" width="10.34" height="10.34" stroke="#00dc00" stroke-width="2.3" fill="#fff" stroke-linejoin="round"/>
<rect x="966.07" y="679.99" width="10.34" height="10.34" stroke="#00dc00" stroke-width="2.3" fill="#fff" stroke-linejoin="round"/>
<rect x="966.07" y="754.76" width="10.34" height="10.34" stroke="#00dc00" stroke-width="2.3" fill="#fff" stroke-linejoin="round"/>
<rect x="1082.21" y="776.23" width="10.34" height="10.34" stroke="#00dc00" stroke-width="2.3" fill="#fff" stroke-linejoin="round"/>
<rect x="1082.21" y="869.09" width="10.34" height="10.34" stroke="#00dc00" stroke-width="2.3" fill="#fff" stroke-linejoin="round"/>
<rect x="1082.21" y="959.06" width="10.34" height="10.34" stroke="#00dc00" stroke-width="2.3" fill="#fff" stroke-linejoin="round"/>
<rect x="1198.35" y="824.23" width="10.34" height="10.34" stroke="#00dc00" stroke-width="2.3" fill="#fff" stroke-linejoin="round"/>
<rect x="1198.35" y="953.99" width="10.34" height="10.34" stroke="#00dc00" stroke-width="2.3" fill="#fff" stroke-linejoin="round"/>
<rect x="1198.35" y="990.41" width="10.34" height="10.34" stroke="#00dc00" stroke-width="2.3" fill="#fff" stroke-linejoin="round"/>
<rect x="1314.49" y="870.78" width="10.34" height="10.34" stroke="#00dc00" stroke-width="2.3" fill="#fff" stroke-linejoin="round"/>
<rect x="1314.49" y="1025.87" width="10.34" height="10.34" stroke="#00dc00" stroke-width="2.3" fill="#fff" stroke-linejoin="round"/>
<rect x="1314.49" y="1030.21" width="10.34" height="10.34" stroke="#00dc00" stroke-width="2.3" fill="#fff" stroke-linejoin="round"/>
<rect x="1314.49" y="1042.75" width="10.34" height="10.34" stroke="#00dc00" stroke-width="2.3" fill="#fff" stroke-linejoin="round"/>
<rect x="1430.63" y="883.32" width="10.34" height="10.34" stroke="#00dc00" stroke-width="2.3" fill="#fff" stroke-linejoin="round"/>
<path d="M855.1 861.98L862.43 874.95L847.77 874.95Z" stroke="#000" stroke-width="2.3" fill="#fff" stroke-linejoin="round"/>
<path d="M971.24 847.99L978.57 860.96L963.91 860.96Z" stroke="#000" stroke-width="2.3" fill="#fff" stroke-linejoin="round"/>
<path d="M971.24 859.57L978.57 872.54L963.91 872.54Z" stroke="#000" stroke-width="2.3" fill="#fff" stroke-linejoin="round"/>
<path d="M971.24 865L978.57 877.97L963.91 877.97Z" stroke="#000" stroke-width="2.3" fill="#fff" stroke-linejoin="round"/>
<path d="M971.24 873.08L978.57 886.05L963.91 886.05Z" stroke="#000" stroke-width="2.3" fill="#fff" stroke-linejoin="round"/>
<path d="M971.24 879.11L978.57 892.08L963.91 892.08Z" stroke="#000" stroke-width="2.3" fill="#fff" stroke-linejoin="round"/>
<path d="M1000.27 830.87L1007.61 843.84L992.94 843.84Z" stroke="#000" stroke-width="2.3" fill="#fff" stroke-linejoin="round"/>
<path d="M1000.27 850.89L1007.61 863.86L992.94 863.86Z" stroke="#000" stroke-width="2.3" fill="#fff" stroke-linejoin="round"/>
<path d="M1000.27 862.95L1007.61 875.92L992.94 875.92Z" stroke="#000" stroke-width="2.3" fill="#fff" stroke-linejoin="round"/>
<path d="M1029.31 852.33L1036.64 865.31L1021.98 865.31Z" stroke="#000" stroke-width="2.3" fill="#fff" stroke-linejoin="round"/>
<path d="M1029.31 878.14L1036.64 891.11L1021.98 891.11Z" stroke="#000" stroke-width="2.3" fill="#fff" stroke-linejoin="round"/>
<path d="M1029.31 892.13L1036.64 905.1L1021.98 905.1Z" stroke="#000" stroke-width="2.3" fill="#fff" stroke-linejoin="round"/>
<path d="M1087.38 849.92L1094.71 862.89L1080.05 862.89Z" stroke="#000" stroke-width="2.3" fill="#fff" stroke-linejoin="round"/>
<path d="M1087.38 883.09L1094.71 896.06L1080.05 896.06Z" stroke="#000" stroke-width="2.3" fill="#fff" stroke-linejoin="round"/>
<path d="M1087.38 903.23L1094.71 916.2L1080.05 916.2Z" stroke="#000" stroke-width="2.3" fill="#fff" stroke-linejoin="round"/>
<path d="M1145.45 855.23L1152.78 868.2L1138.12 868.2Z" stroke="#000" stroke-width="2.3" fill="#fff" stroke-linejoin="round"/>
<path d="M1145.45 886.1L1152.78 899.07L1138.12 899.07Z" stroke="#000" stroke-width="2.3" fill="#fff" stroke-linejoin="round"/>
<path d="M1145.45 897.44L1152.78 910.41L1138.12 910.41Z" stroke="#000" stroke-width="2.3" fill="#fff" stroke-linejoin="round"/>
<path d="M1203.52 849.92L1210.85 862.89L1196.19 862.89Z" stroke="#000" stroke-width="2.3" fill="#fff" stroke-linejoin="round"/>
<path d="M1203.52 854.75L1210.85 867.72L1196.19 867.72Z" stroke="#000" stroke-width="2.3" fill="#fff" stroke-linejoin="round"/>
<path d="M1290.62 838.1L1297.96 851.08L1283.29 851.08Z" stroke="#000" stroke-width="2.3" fill="#fff" stroke-linejoin="round"/>
<path d="M1290.62 857.64L1297.96 870.61L1283.29 870.61Z" stroke="#000" stroke-width="2.3" fill="#fff" stroke-linejoin="round"/>
<path d="M1319.66 857.64L1326.99 870.61L1312.33 870.61Z" stroke="#000" stroke-width="2.3" fill="#fff" stroke-linejoin="round"/>
<path d="M1435.8 851.85L1443.13 864.82L1428.47 864.82Z" stroke="#000" stroke-width="2.3" fill="#fff" stroke-linejoin="round"/>
<path d="M1435.8 855.23L1443.13 868.2L1428.47 868.2Z" stroke="#000" stroke-width="2.3" fill="#fff" stroke-linejoin="round"/>
<path d="M1435.8 868.98L1443.13 881.95L1428.47 881.95Z" stroke="#000" stroke-width="2.3" fill="#fff" stroke-linejoin="round"/>
<path d="M1435.8 880.31L1443.13 893.29L1428.47 893.29Z" stroke="#000" stroke-width="2.3" fill="#fff" stroke-linejoin="round"/>
<path d="M1435.8 896.23L1443.13 909.2L1428.47 909.2Z" stroke="#000" stroke-width="2.3" fill="#fff" stroke-linejoin="round"/>
<path d="M1435.8 898.64L1443.13 911.62L1428.47 911.62Z" stroke="#000" stroke-width="2.3" fill="#fff" stroke-linejoin="round"/>
<path d="M1435.8 924.69L1443.13 937.67L1428.47 937.67Z" stroke="#000" stroke-width="2.3" fill="#fff" stroke-linejoin="round"/>
<circle cx="855.1" cy="870.16" r="6.3" stroke="#c80000" stroke-width="2.3" fill="#fff"/>
<circle cx="913.17" cy="847.97" r="6.3" stroke="#c80000" stroke-width="2.3" fill="#fff"/>
<circle cx="913.17" cy="854" r="6.3" stroke="#c80000" stroke-width="2.3" fill="#fff"/>
<circle cx="913.17" cy="865.34" r="6.3" stroke="#c80000" stroke-width="2.3" fill="#fff"/>
<circle cx="913.17" cy="870.76" r="6.3" stroke="#c80000" stroke-width="2.3" fill="#fff"/>
<circle cx="913.17" cy="893.8" r="6.3" stroke="#c80000" stroke-width="2.3" fill="#fff"/>
<circle cx="913.17" cy="911.41" r="6.3" stroke="#c80000" stroke-width="2.3" fill="#fff"/>
<circle cx="971.24" cy="837" r="6.3" stroke="#c80000" stroke-width="2.3" fill="#fff"/>
<circle cx="971.24" cy="841.94" r="6.3" stroke="#c80000" stroke-width="2.3" fill="#fff"/>
<circle cx="971.24" cy="850.14" r="6.3" stroke="#c80000" stroke-width="2.3" fill="#fff"/>
<circle cx="971.24" cy="878.12" r="6.3" stroke="#c80000" stroke-width="2.3" fill="#fff"/>
<circle cx="971.24" cy="895.24" r="6.3" stroke="#c80000" stroke-width="2.3" fill="#fff"/>
<circle cx="1029.31" cy="781.64" r="6.3" stroke="#c80000" stroke-width="2.3" fill="#fff"/>
<circle cx="1029.31" cy="826.99" r="6.3" stroke="#c80000" stroke-width="2.3" fill="#fff"/>
<circle cx="1029.31" cy="838.08" r="6.3" stroke="#c80000" stroke-width="2.3" fill="#fff"/>
<circle cx="1029.31" cy="858.1" r="6.3" stroke="#c80000" stroke-width="2.3" fill="#fff"/>
<circle cx="1029.31" cy="884.87" r="6.3" stroke="#c80000" stroke-width="2.3" fill="#fff"/>
<circle cx="1029.31" cy="909.36" r="6.3" stroke="#c80000" stroke-width="2.3" fill="#fff"/>
<circle cx="1087.38" cy="763.55" r="6.3" stroke="#c80000" stroke-width="2.3" fill="#fff"/>
<circle cx="1087.38" cy="799.73" r="6.3" stroke="#c80000" stroke-width="2.3" fill="#fff"/>
<circle cx="1087.38" cy="833.02" r="6.3" stroke="#c80000" stroke-width="2.3" fill="#fff"/>
<circle cx="1087.38" cy="866.06" r="6.3" stroke="#c80000" stroke-width="2.3" fill="#fff"/>
<circle cx="1087.38" cy="893.8" r="6.3" stroke="#c80000" stroke-width="2.3" fill="#fff"/>
<circle cx="1087.38" cy="914.3" r="6.3" stroke="#c80000" stroke-width="2.3" fill="#fff"/>
<circle cx="1145.45" cy="752.94" r="6.3" stroke="#c80000" stroke-width="2.3" fill="#fff"/>
<circle cx="1145.45" cy="825.78" r="6.3" stroke="#c80000" stroke-width="2.3" fill="#fff"/>
<circle cx="1145.45" cy="842.9" r="6.3" stroke="#c80000" stroke-width="2.3" fill="#fff"/>
<circle cx="1145.45" cy="874.98" r="6.3" stroke="#c80000" stroke-width="2.3" fill="#fff"/>
<circle cx="1145.45" cy="902.24" r="6.3" stroke="#c80000" stroke-width="2.3" fill="#fff"/>
<circle cx="1145.45" cy="927.81" r="6.3" stroke="#c80000" stroke-width="2.3" fill="#fff"/>
<circle cx="1203.52" cy="778.5" r="6.3" stroke="#c80000" stroke-width="2.3" fill="#fff"/>
<circle cx="1203.52" cy="846.28" r="6.3" stroke="#c80000" stroke-width="2.3" fill="#fff"/>
<circle cx="1203.52" cy="852.07" r="6.3" stroke="#c80000" stroke-width="2.3" fill="#fff"/>
<circle cx="1203.52" cy="864.61" r="6.3" stroke="#c80000" stroke-width="2.3" fill="#fff"/>
<circle cx="1203.52" cy="886.32" r="6.3" stroke="#c80000" stroke-width="2.3" fill="#fff"/>
<circle cx="1203.52" cy="921.05" r="6.3" stroke="#c80000" stroke-width="2.3" fill="#fff"/>
<circle cx="1203.52" cy="954.58" r="6.3" stroke="#c80000" stroke-width="2.3" fill="#fff"/>
<path d="M855.1 862.55L856.96 867.92L862.64 868.03L858.12 871.46L859.76 876.9L855.1 873.65L850.44 876.9L852.08 871.46L847.56 868.03L853.24 867.92Z" stroke="#8000ff" stroke-width="2.3" fill="#fff" stroke-linejoin="round"/>
<path d="M913.17 822.03L915.03 827.39L920.71 827.51L916.19 830.94L917.83 836.38L913.17 833.13L908.51 836.38L910.15 830.94L905.63 827.51L911.31 827.39Z" stroke="#8000ff" stroke-width="2.3" fill="#fff" stroke-linejoin="round"/>
<path d="M971.24 817.33L973.1 822.69L978.78 822.81L974.26 826.24L975.9 831.67L971.24 828.43L966.58 831.67L968.22 826.24L963.7 822.81L969.38 822.69Z" stroke="#8000ff" stroke-width="2.3" fill="#fff" stroke-linejoin="round"/>
<path d="M971.24 859.54L973.1 864.9L978.78 865.02L974.26 868.45L975.9 873.88L971.24 870.64L966.58 873.88L968.22 868.45L963.7 865.02L969.38 864.9Z" stroke="#8000ff" stroke-width="2.3" fill="#fff" stroke-linejoin="round"/>
<path d="M1000.27 867.62L1002.14 872.98L1007.82 873.1L1003.29 876.53L1004.94 881.96L1000.27 878.72L995.61 881.96L997.26 876.53L992.73 873.1L998.41 872.98Z" stroke="#8000ff" stroke-width="2.3" fill="#fff" stroke-linejoin="round"/>
<path d="M1000.27 874.61L1002.14 879.98L1007.82 880.09L1003.29 883.52L1004.94 888.96L1000.27 885.71L995.61 888.96L997.26 883.52L992.73 880.09L998.41 879.98Z" stroke="#8000ff" stroke-width="2.3" fill="#fff" stroke-linejoin="round"/>
<path d="M1029.31 822.27L1031.17 827.63L1036.85 827.75L1032.33 831.18L1033.97 836.62L1029.31 833.37L1024.65 836.62L1026.29 831.18L1021.77 827.75L1027.45 827.63Z" stroke="#8000ff" stroke-width="2.3" fill="#fff" stroke-linejoin="round"/>
<path d="M1087.38 810.69L1089.24 816.06L1094.92 816.17L1090.4 819.6L1092.04 825.04L1087.38 821.8L1082.72 825.04L1084.36 819.6L1079.84 816.17L1085.52 816.06Z" stroke="#8000ff" stroke-width="2.3" fill="#fff" stroke-linejoin="round"/>
<path d="M1087.38 874.61L1089.24 879.98L1094.92 880.09L1090.4 883.52L1092.04 888.96L1087.38 885.71L1082.72 888.96L1084.36 883.52L1079.84 880.09L1085.52 879.98Z" stroke="#8000ff" stroke-width="2.3" fill="#fff" stroke-linejoin="round"/>
<path d="M1145.45 843.98L1147.31 849.34L1152.99 849.46L1148.47 852.89L1150.11 858.32L1145.45 855.08L1140.79 858.32L1142.43 852.89L1137.91 849.46L1143.59 849.34Z" stroke="#8000ff" stroke-width="2.3" fill="#fff" stroke-linejoin="round"/>
<path d="M1145.45 869.06L1147.31 874.43L1152.99 874.54L1148.47 877.97L1150.11 883.41L1145.45 880.17L1140.79 883.41L1142.43 877.97L1137.91 874.54L1143.59 874.43Z" stroke="#8000ff" stroke-width="2.3" fill="#fff" stroke-linejoin="round"/>
<path d="M1145.45 882.09L1147.31 887.45L1152.99 887.57L1148.47 891L1150.11 896.43L1145.45 893.19L1140.79 896.43L1142.43 891L1137.91 887.57L1143.59 887.45Z" stroke="#8000ff" stroke-width="2.3" fill="#fff" stroke-linejoin="round"/>
<path d="M1203.52 861.59L1205.38 866.95L1211.06 867.07L1206.54 870.5L1208.18 875.93L1203.52 872.69L1198.86 875.93L1200.5 870.5L1195.98 867.07L1201.66 866.95Z" stroke="#8000ff" stroke-width="2.3" fill="#fff" stroke-linejoin="round"/>
<path d="M1203.52 869.55L1205.38 874.91L1211.06 875.03L1206.54 878.46L1208.18 883.89L1203.52 880.65L1198.86 883.89L1200.5 878.46L1195.98 875.03L1201.66 874.91Z" stroke="#8000ff" stroke-width="2.3" fill="#fff" stroke-linejoin="round"/>
<path d="M1261.59 891.25L1263.45 896.62L1269.13 896.73L1264.61 900.16L1266.25 905.6L1261.59 902.36L1256.93 905.6L1258.57 900.16L1254.05 896.73L1259.73 896.62Z" stroke="#8000ff" stroke-width="2.3" fill="#fff" stroke-linejoin="round"/>
<path d="M1319.66 889.57L1321.52 894.93L1327.2 895.05L1322.68 898.48L1324.32 903.91L1319.66 900.67L1315 903.91L1316.64 898.48L1312.12 895.05L1317.8 894.93Z" stroke="#8000ff" stroke-width="2.3" fill="#fff" stroke-linejoin="round"/>
<path d="M1319.66 895.84L1321.52 901.2L1327.2 901.32L1322.68 904.75L1324.32 910.18L1319.66 906.94L1315 910.18L1316.64 904.75L1312.12 901.32L1317.8 901.2Z" stroke="#8000ff" stroke-width="2.3" fill="#fff" stroke-linejoin="round"/>
<path d="M1435.8 888.36L1437.66 893.72L1443.34 893.84L1438.82 897.27L1440.46 902.71L1435.8 899.46L1431.14 902.71L1432.78 897.27L1428.26 893.84L1433.94 893.72Z" stroke="#8000ff" stroke-width="2.3" fill="#fff" stroke-linejoin="round"/>
<path d="M1435.8 911.76L1437.66 917.12L1443.34 917.24L1438.82 920.67L1440.46 926.1L1435.8 922.86L1431.14 926.1L1432.78 920.67L1428.26 917.24L1433.94 917.12Z" stroke="#8000ff" stroke-width="2.3" fill="#fff" stroke-linejoin="round"/>
<text transform="translate(855.1 1185.1) scale(0.99 1)" font-size="20" text-anchor="middle">0</text>
<text transform="translate(971.24 1185.1) scale(0.99 1)" font-size="20" text-anchor="middle">20</text>
<text transform="translate(1087.38 1185.1) scale(0.99 1)" font-size="20" text-anchor="middle">40</text>
<text transform="translate(1203.52 1185.1) scale(0.99 1)" font-size="20" text-anchor="middle">60</text>
<text transform="translate(1319.66 1185.1) scale(0.99 1)" font-size="20" text-anchor="middle">80</text>
<text transform="translate(1435.8 1185.1) scale(0.99 1)" font-size="20" text-anchor="middle">100</text>
<text transform="translate(844.45 1165.96) scale(0.99 1)" font-size="20" text-anchor="end">-20</text>
<text transform="translate(844.45 1117.72) scale(0.99 1)" font-size="20" text-anchor="end">0</text>
<text transform="translate(844.45 1069.48) scale(0.99 1)" font-size="20" text-anchor="end">20</text>
<text transform="translate(844.45 1021.24) scale(0.99 1)" font-size="20" text-anchor="end">40</text>
<text transform="translate(844.45 973) scale(0.99 1)" font-size="20" text-anchor="end">60</text>
<text transform="translate(844.45 924.76) scale(0.99 1)" font-size="20" text-anchor="end">80</text>
<text transform="translate(844.45 876.52) scale(0.99 1)" font-size="20" text-anchor="end">100</text>
<text transform="translate(844.45 828.28) scale(0.99 1)" font-size="20" text-anchor="end">120</text>
<text transform="translate(844.45 780.04) scale(0.99 1)" font-size="20" text-anchor="end">140</text>
<text transform="translate(844.45 731.8) scale(0.99 1)" font-size="20" text-anchor="end">160</text>
<text transform="translate(844.45 683.56) scale(0.99 1)" font-size="20" text-anchor="end">180</text>
<text x="1145.4" y="1225" font-size="23.5" font-weight="bold" text-anchor="middle" textLength="246" lengthAdjust="spacingAndGlyphs">Substitution ratio (%)</text>
<text transform="translate(801.1 918.35) rotate(-90)" font-size="24.3" font-weight="bold" text-anchor="middle" textLength="392.6" lengthAdjust="spacingAndGlyphs">Relative compressive stregth (%)</text>
<rect x="876.5" y="994.5" width="186" height="143" fill="#fff" stroke="#2a2a2a" stroke-width="1"/>
<path d="M903.9 1003.38V1017.62M896.77 1010.5H911.02M896.96 1003.56L910.84 1017.44M896.96 1017.44L910.84 1003.56" stroke="#00009e" stroke-width="2.3" fill="none"/>
<text x="934.8" y="1018.3" font-size="21.8">Copper</text>
<rect x="898.67" y="1033.08" width="10.45" height="10.45" stroke="#00dc00" stroke-width="2.3" fill="#fff" stroke-linejoin="round"/>
<text x="934.8" y="1046.1" font-size="21.8">Gold</text>
<path d="M903.9 1057.83L911.31 1070.94L896.49 1070.94Z" stroke="#000" stroke-width="2.3" fill="#fff" stroke-linejoin="round"/>
<text x="934.8" y="1073.9" font-size="21.8">Iron</text>
<circle cx="903.9" cy="1093.9" r="6.37" stroke="#c80000" stroke-width="2.3" fill="#fff"/>
<text x="934.8" y="1101.7" font-size="21.8">Lead-Zinc</text>
<path d="M903.9 1114.28L905.72 1119.51L911.25 1119.62L906.84 1122.97L908.45 1128.27L903.9 1125.11L899.35 1128.27L900.96 1122.97L896.55 1119.62L902.08 1119.51Z" stroke="#8000ff" stroke-width="2.3" fill="#fff" stroke-linejoin="round"/>
<text x="934.8" y="1129.5" font-size="21.8">Molybdenum</text>
<text x="1144.6" y="1257.5" font-size="24" font-family="'Liberation Serif',serif" text-anchor="middle" textLength="433" lengthAdjust="spacingAndGlyphs">(d) Fine aggregate in Portland/blended CBM</text>
</g>
<g>
<path d="M88.7 1796.3V1785.8M208.26 1796.3V1785.8M327.82 1796.3V1785.8M447.38 1796.3V1785.8M566.94 1796.3V1785.8M686.5 1796.3V1785.8M112.61 1796.3V1790.7M136.52 1796.3V1790.7M160.44 1796.3V1790.7M184.35 1796.3V1790.7M232.17 1796.3V1790.7M256.08 1796.3V1790.7M280 1796.3V1790.7M303.91 1796.3V1790.7M351.73 1796.3V1790.7M375.64 1796.3V1790.7M399.56 1796.3V1790.7M423.47 1796.3V1790.7M471.29 1796.3V1790.7M495.2 1796.3V1790.7M519.12 1796.3V1790.7M543.03 1796.3V1790.7M590.85 1796.3V1790.7M614.76 1796.3V1790.7M638.68 1796.3V1790.7M662.59 1796.3V1790.7M88.7 1796.3H99.2M88.7 1748.76H99.2M88.7 1701.22H99.2M88.7 1653.68H99.2M88.7 1606.14H99.2M88.7 1558.6H99.2M88.7 1511.06H99.2M88.7 1463.52H99.2M88.7 1415.98H99.2M88.7 1368.44H99.2M88.7 1320.9H99.2M88.7 1786.79H94.3M88.7 1777.28H94.3M88.7 1767.78H94.3M88.7 1758.27H94.3M88.7 1739.25H94.3M88.7 1729.74H94.3M88.7 1720.24H94.3M88.7 1710.73H94.3M88.7 1691.71H94.3M88.7 1682.2H94.3M88.7 1672.7H94.3M88.7 1663.19H94.3M88.7 1644.17H94.3M88.7 1634.66H94.3M88.7 1625.16H94.3M88.7 1615.65H94.3M88.7 1596.63H94.3M88.7 1587.12H94.3M88.7 1577.62H94.3M88.7 1568.11H94.3M88.7 1549.09H94.3M88.7 1539.58H94.3M88.7 1530.08H94.3M88.7 1520.57H94.3M88.7 1501.55H94.3M88.7 1492.04H94.3M88.7 1482.54H94.3M88.7 1473.03H94.3M88.7 1454.01H94.3M88.7 1444.5H94.3M88.7 1435H94.3M88.7 1425.49H94.3M88.7 1406.47H94.3M88.7 1396.96H94.3M88.7 1387.46H94.3M88.7 1377.95H94.3M88.7 1358.93H94.3M88.7 1349.42H94.3M88.7 1339.92H94.3M88.7 1330.41H94.3" stroke="#000" stroke-width="2.2" fill="none"/>
<rect x="88.7" y="1320.9" width="597.8" height="475.4" stroke="#000" stroke-width="2.2" fill="none"/>
<path d="M88.7 1502.88V1519.23M80.53 1511.06H96.88M80.74 1503.1L96.66 1519.02M80.74 1519.02L96.66 1503.1" stroke="#00009e" stroke-width="2.5" fill="none"/>
<path d="M148.48 1489.57V1505.92M140.31 1497.75H156.66M140.52 1489.79L156.44 1505.71M140.52 1505.71L156.44 1489.79" stroke="#00009e" stroke-width="2.5" fill="none"/>
<path d="M208.26 1480.3V1496.65M200.08 1488.48H216.44M200.3 1480.52L216.22 1496.44M200.3 1496.44L216.22 1480.52" stroke="#00009e" stroke-width="2.5" fill="none"/>
<path d="M268.04 1510.02V1526.37M259.86 1518.19H276.21M260.08 1510.23L276 1526.15M260.08 1526.15L276 1510.23" stroke="#00009e" stroke-width="2.5" fill="none"/>
<path d="M327.82 1517.86V1534.21M319.64 1526.04H336M319.86 1518.08L335.78 1533.99M319.86 1533.99L335.78 1518.08" stroke="#00009e" stroke-width="2.5" fill="none"/>
<path d="M387.6 1532.36V1548.71M379.42 1540.53H395.77M379.64 1532.58L395.56 1548.49M379.64 1548.49L395.56 1532.58" stroke="#00009e" stroke-width="2.5" fill="none"/>
<rect x="82.7" y="1505.07" width="11.99" height="11.99" stroke="#00dc00" stroke-width="2.5" fill="#fff" stroke-linejoin="round"/>
<rect x="182.54" y="1462.52" width="11.99" height="11.99" stroke="#00dc00" stroke-width="2.5" fill="#fff" stroke-linejoin="round"/>
<rect x="182.54" y="1530.02" width="11.99" height="11.99" stroke="#00dc00" stroke-width="2.5" fill="#fff" stroke-linejoin="round"/>
<rect x="182.54" y="1567.58" width="11.99" height="11.99" stroke="#00dc00" stroke-width="2.5" fill="#fff" stroke-linejoin="round"/>
<path d="M88.7 1501.58L97.2 1516.62L80.2 1516.62Z" stroke="#000" stroke-width="2.5" fill="#fff" stroke-linejoin="round"/>
<path d="M287.77 1499.91L296.27 1514.96L279.27 1514.96Z" stroke="#000" stroke-width="2.5" fill="#fff" stroke-linejoin="round"/>
<path d="M387.6 1379.87L396.1 1394.92L379.1 1394.92Z" stroke="#000" stroke-width="2.5" fill="#fff" stroke-linejoin="round"/>
<path d="M387.6 1465.45L396.1 1480.49L379.1 1480.49Z" stroke="#000" stroke-width="2.5" fill="#fff" stroke-linejoin="round"/>
<path d="M387.6 1488.27L396.1 1503.31L379.1 1503.31Z" stroke="#000" stroke-width="2.5" fill="#fff" stroke-linejoin="round"/>
<path d="M387.6 1503.48L396.1 1518.52L379.1 1518.52Z" stroke="#000" stroke-width="2.5" fill="#fff" stroke-linejoin="round"/>
<path d="M387.6 1518.22L396.1 1533.26L379.1 1533.26Z" stroke="#000" stroke-width="2.5" fill="#fff" stroke-linejoin="round"/>
<path d="M387.6 1520.59L396.1 1535.63L379.1 1535.63Z" stroke="#000" stroke-width="2.5" fill="#fff" stroke-linejoin="round"/>
<path d="M387.6 1534.86L396.1 1549.9L379.1 1549.9Z" stroke="#000" stroke-width="2.5" fill="#fff" stroke-linejoin="round"/>
<path d="M387.6 1537.23L396.1 1552.27L379.1 1552.27Z" stroke="#000" stroke-width="2.5" fill="#fff" stroke-linejoin="round"/>
<path d="M487.43 1555.53L495.93 1570.58L478.93 1570.58Z" stroke="#000" stroke-width="2.5" fill="#fff" stroke-linejoin="round"/>
<path d="M487.43 1565.04L495.93 1580.08L478.93 1580.08Z" stroke="#000" stroke-width="2.5" fill="#fff" stroke-linejoin="round"/>
<path d="M686.5 1469.49L695 1484.53L678 1484.53Z" stroke="#000" stroke-width="2.5" fill="#fff" stroke-linejoin="round"/>
<path d="M686.5 1479L695 1494.04L678 1494.04Z" stroke="#000" stroke-width="2.5" fill="#fff" stroke-linejoin="round"/>
<path d="M686.5 1489.69L695 1504.73L678 1504.73Z" stroke="#000" stroke-width="2.5" fill="#fff" stroke-linejoin="round"/>
<path d="M686.5 1494.45L695 1509.49L678 1509.49Z" stroke="#000" stroke-width="2.5" fill="#fff" stroke-linejoin="round"/>
<path d="M686.5 1502.53L695 1517.57L678 1517.57Z" stroke="#000" stroke-width="2.5" fill="#fff" stroke-linejoin="round"/>
<path d="M686.5 1507.76L695 1522.8L678 1522.8Z" stroke="#000" stroke-width="2.5" fill="#fff" stroke-linejoin="round"/>
<path d="M686.5 1511.09L695 1526.13L678 1526.13Z" stroke="#000" stroke-width="2.5" fill="#fff" stroke-linejoin="round"/>
<path d="M686.5 1521.78L695 1536.82L678 1536.82Z" stroke="#000" stroke-width="2.5" fill="#fff" stroke-linejoin="round"/>
<path d="M686.5 1534.86L695 1549.9L678 1549.9Z" stroke="#000" stroke-width="2.5" fill="#fff" stroke-linejoin="round"/>
<path d="M686.5 1540.08L695 1555.13L678 1555.13Z" stroke="#000" stroke-width="2.5" fill="#fff" stroke-linejoin="round"/>
<circle cx="88.7" cy="1511.06" r="7.3" stroke="#c80000" stroke-width="2.5" fill="#fff"/>
<circle cx="148.48" cy="1502.98" r="7.3" stroke="#c80000" stroke-width="2.5" fill="#fff"/>
<circle cx="148.48" cy="1507.26" r="7.3" stroke="#c80000" stroke-width="2.5" fill="#fff"/>
<circle cx="148.48" cy="1520.33" r="7.3" stroke="#c80000" stroke-width="2.5" fill="#fff"/>
<circle cx="178.37" cy="1497.75" r="7.3" stroke="#c80000" stroke-width="2.5" fill="#fff"/>
<circle cx="178.37" cy="1509.87" r="7.3" stroke="#c80000" stroke-width="2.5" fill="#fff"/>
<circle cx="178.37" cy="1519.62" r="7.3" stroke="#c80000" stroke-width="2.5" fill="#fff"/>
<circle cx="208.26" cy="1468.99" r="7.3" stroke="#c80000" stroke-width="2.5" fill="#fff"/>
<circle cx="208.26" cy="1484.44" r="7.3" stroke="#c80000" stroke-width="2.5" fill="#fff"/>
<circle cx="208.26" cy="1496.08" r="7.3" stroke="#c80000" stroke-width="2.5" fill="#fff"/>
<circle cx="268.04" cy="1460.19" r="7.3" stroke="#c80000" stroke-width="2.5" fill="#fff"/>
<circle cx="268.04" cy="1470.18" r="7.3" stroke="#c80000" stroke-width="2.5" fill="#fff"/>
<circle cx="268.04" cy="1503.93" r="7.3" stroke="#c80000" stroke-width="2.5" fill="#fff"/>
<text transform="translate(88.7 1825.1) scale(1.04 1)" font-size="21.6" text-anchor="middle">0</text>
<text transform="translate(208.26 1825.1) scale(1.04 1)" font-size="21.6" text-anchor="middle">20</text>
<text transform="translate(327.82 1825.1) scale(1.04 1)" font-size="21.6" text-anchor="middle">40</text>
<text transform="translate(447.38 1825.1) scale(1.04 1)" font-size="21.6" text-anchor="middle">60</text>
<text transform="translate(566.94 1825.1) scale(1.04 1)" font-size="21.6" text-anchor="middle">80</text>
<text transform="translate(686.5 1825.1) scale(1.04 1)" font-size="21.6" text-anchor="middle">100</text>
<text transform="translate(77.55 1802.83) scale(1.04 1)" font-size="21.6" text-anchor="end">-20</text>
<text transform="translate(77.55 1755.29) scale(1.04 1)" font-size="21.6" text-anchor="end">0</text>
<text transform="translate(77.55 1707.75) scale(1.04 1)" font-size="21.6" text-anchor="end">20</text>
<text transform="translate(77.55 1660.21) scale(1.04 1)" font-size="21.6" text-anchor="end">40</text>
<text transform="translate(77.55 1612.67) scale(1.04 1)" font-size="21.6" text-anchor="end">60</text>
<text transform="translate(77.55 1565.13) scale(1.04 1)" font-size="21.6" text-anchor="end">80</text>
<text transform="translate(77.55 1517.59) scale(1.04 1)" font-size="21.6" text-anchor="end">100</text>
<text transform="translate(77.55 1470.05) scale(1.04 1)" font-size="21.6" text-anchor="end">120</text>
<text transform="translate(77.55 1422.51) scale(1.04 1)" font-size="21.6" text-anchor="end">140</text>
<text transform="translate(77.55 1374.97) scale(1.04 1)" font-size="21.6" text-anchor="end">160</text>
<text transform="translate(77.55 1327.43) scale(1.04 1)" font-size="21.6" text-anchor="end">180</text>
<text x="387.9" y="1862.8" font-size="24.5" font-weight="bold" text-anchor="middle" textLength="254.4" lengthAdjust="spacingAndGlyphs">Substitution ratio (%)</text>
<text transform="translate(19.1 1558.4) rotate(-90)" font-size="25" font-weight="bold" text-anchor="middle" textLength="390.5" lengthAdjust="spacingAndGlyphs">Relative compressive stregth (%)</text>
<rect x="113.5" y="1646.5" width="152" height="125" fill="#fff" stroke="#2a2a2a" stroke-width="1"/>
<path d="M145.1 1655.62V1671.97M136.92 1663.8H153.28M137.14 1655.84L153.06 1671.76M137.14 1671.76L153.06 1655.84" stroke="#00009e" stroke-width="2.5" fill="none"/>
<text x="180.3" y="1672.68" font-size="24.8">Copper</text>
<rect x="139.1" y="1688.01" width="11.99" height="11.99" stroke="#00dc00" stroke-width="2.5" fill="#fff" stroke-linejoin="round"/>
<text x="180.3" y="1702.88" font-size="24.8">Gold</text>
<path d="M145.1 1714.72L153.6 1729.76L136.6 1729.76Z" stroke="#000" stroke-width="2.5" fill="#fff" stroke-linejoin="round"/>
<text x="180.3" y="1733.08" font-size="24.8">Iron</text>
<circle cx="145.1" cy="1754.4" r="7.3" stroke="#c80000" stroke-width="2.5" fill="#fff"/>
<text x="180.3" y="1763.28" font-size="24.8">Quarz</text>
<text x="380.8" y="1921.3" font-size="21.6" font-family="'Liberation Sans',sans-serif" text-anchor="middle" textLength="255.5" lengthAdjust="spacingAndGlyphs">(e) Fine aggregate in AAM</text>
</g>
<g>
<path d="M866.1 1775.1V1765.6M977.46 1775.1V1765.6M1088.82 1775.1V1765.6M1200.18 1775.1V1765.6M1311.54 1775.1V1765.6M1422.9 1775.1V1765.6M888.37 1775.1V1770.1M910.64 1775.1V1770.1M932.92 1775.1V1770.1M955.19 1775.1V1770.1M999.73 1775.1V1770.1M1022 1775.1V1770.1M1044.28 1775.1V1770.1M1066.55 1775.1V1770.1M1111.09 1775.1V1770.1M1133.36 1775.1V1770.1M1155.64 1775.1V1770.1M1177.91 1775.1V1770.1M1222.45 1775.1V1770.1M1244.72 1775.1V1770.1M1267 1775.1V1770.1M1289.27 1775.1V1770.1M1333.81 1775.1V1770.1M1356.08 1775.1V1770.1M1378.36 1775.1V1770.1M1400.63 1775.1V1770.1M866.1 1775.1H875.6M866.1 1730.11H875.6M866.1 1685.12H875.6M866.1 1640.13H875.6M866.1 1595.14H875.6M866.1 1550.15H875.6M866.1 1505.16H875.6M866.1 1460.17H875.6M866.1 1415.18H875.6M866.1 1370.19H875.6M866.1 1325.2H875.6M866.1 1766.1H871.1M866.1 1757.1H871.1M866.1 1748.11H871.1M866.1 1739.11H871.1M866.1 1721.11H871.1M866.1 1712.11H871.1M866.1 1703.12H871.1M866.1 1694.12H871.1M866.1 1676.12H871.1M866.1 1667.12H871.1M866.1 1658.13H871.1M866.1 1649.13H871.1M866.1 1631.13H871.1M866.1 1622.13H871.1M866.1 1613.14H871.1M866.1 1604.14H871.1M866.1 1586.14H871.1M866.1 1577.14H871.1M866.1 1568.15H871.1M866.1 1559.15H871.1M866.1 1541.15H871.1M866.1 1532.15H871.1M866.1 1523.16H871.1M866.1 1514.16H871.1M866.1 1496.16H871.1M866.1 1487.16H871.1M866.1 1478.17H871.1M866.1 1469.17H871.1M866.1 1451.17H871.1M866.1 1442.17H871.1M866.1 1433.18H871.1M866.1 1424.18H871.1M866.1 1406.18H871.1M866.1 1397.18H871.1M866.1 1388.19H871.1M866.1 1379.19H871.1M866.1 1361.19H871.1M866.1 1352.19H871.1M866.1 1343.2H871.1M866.1 1334.2H871.1" stroke="#000" stroke-width="2" fill="none"/>
<rect x="866.1" y="1325.2" width="556.8" height="449.9" stroke="#000" stroke-width="2" fill="none"/>
<g transform="translate(866.1 1504.71) scale(1 0.92)"><path d="M0 -8.7L7.8 5.1L-7.8 5.1Z" stroke="#000" stroke-width="2.4" fill="#fff" stroke-linejoin="round"/></g>
<g transform="translate(1422.9 1385.71) scale(1 0.92)"><path d="M0 -8.7L7.8 5.1L-7.8 5.1Z" stroke="#000" stroke-width="2.4" fill="#fff" stroke-linejoin="round"/></g>
<g transform="translate(1422.9 1388.86) scale(1 0.92)"><path d="M0 -8.7L7.8 5.1L-7.8 5.1Z" stroke="#000" stroke-width="2.4" fill="#fff" stroke-linejoin="round"/></g>
<g transform="translate(1422.9 1397.86) scale(1 0.92)"><path d="M0 -8.7L7.8 5.1L-7.8 5.1Z" stroke="#000" stroke-width="2.4" fill="#fff" stroke-linejoin="round"/></g>
<g transform="translate(1422.9 1401.68) scale(1 0.92)"><path d="M0 -8.7L7.8 5.1L-7.8 5.1Z" stroke="#000" stroke-width="2.4" fill="#fff" stroke-linejoin="round"/></g>
<g transform="translate(1422.9 1413.61) scale(1 0.92)"><path d="M0 -8.7L7.8 5.1L-7.8 5.1Z" stroke="#000" stroke-width="2.4" fill="#fff" stroke-linejoin="round"/></g>
<g transform="translate(1422.9 1418.78) scale(1 0.92)"><path d="M0 -8.7L7.8 5.1L-7.8 5.1Z" stroke="#000" stroke-width="2.4" fill="#fff" stroke-linejoin="round"/></g>
<g transform="translate(1422.9 1429.35) scale(1 0.92)"><path d="M0 -8.7L7.8 5.1L-7.8 5.1Z" stroke="#000" stroke-width="2.4" fill="#fff" stroke-linejoin="round"/></g>
<g transform="translate(1422.9 1450.95) scale(1 0.92)"><path d="M0 -8.7L7.8 5.1L-7.8 5.1Z" stroke="#000" stroke-width="2.4" fill="#fff" stroke-linejoin="round"/></g>
<g transform="translate(1422.9 1479.29) scale(1 0.92)"><path d="M0 -8.7L7.8 5.1L-7.8 5.1Z" stroke="#000" stroke-width="2.4" fill="#fff" stroke-linejoin="round"/></g>
<g transform="translate(1422.9 1489.86) scale(1 0.92)"><path d="M0 -8.7L7.8 5.1L-7.8 5.1Z" stroke="#000" stroke-width="2.4" fill="#fff" stroke-linejoin="round"/></g>
<g transform="translate(1422.9 1496.16) scale(1 0.92)"><path d="M0 -8.7L7.8 5.1L-7.8 5.1Z" stroke="#000" stroke-width="2.4" fill="#fff" stroke-linejoin="round"/></g>
<g transform="translate(1422.9 1500.66) scale(1 0.92)"><path d="M0 -8.7L7.8 5.1L-7.8 5.1Z" stroke="#000" stroke-width="2.4" fill="#fff" stroke-linejoin="round"/></g>
<g transform="translate(1422.9 1502.91) scale(1 0.92)"><path d="M0 -8.7L7.8 5.1L-7.8 5.1Z" stroke="#000" stroke-width="2.4" fill="#fff" stroke-linejoin="round"/></g>
<text transform="translate(866.1 1802.1) scale(1.08 1)" font-size="20" text-anchor="middle">0</text>
<text transform="translate(977.46 1802.1) scale(1.08 1)" font-size="20" text-anchor="middle">20</text>
<text transform="translate(1088.82 1802.1) scale(1.08 1)" font-size="20" text-anchor="middle">40</text>
<text transform="translate(1200.18 1802.1) scale(1.08 1)" font-size="20" text-anchor="middle">60</text>
<text transform="translate(1311.54 1802.1) scale(1.08 1)" font-size="20" text-anchor="middle">80</text>
<text transform="translate(1422.9 1802.1) scale(1.08 1)" font-size="20" text-anchor="middle">100</text>
<text transform="translate(855.85 1781.36) scale(1.08 1)" font-size="20" text-anchor="end">-20</text>
<text transform="translate(855.85 1736.37) scale(1.08 1)" font-size="20" text-anchor="end">0</text>
<text transform="translate(855.85 1691.38) scale(1.08 1)" font-size="20" text-anchor="end">20</text>
<text transform="translate(855.85 1646.39) scale(1.08 1)" font-size="20" text-anchor="end">40</text>
<text transform="translate(855.85 1601.4) scale(1.08 1)" font-size="20" text-anchor="end">60</text>
<text transform="translate(855.85 1556.41) scale(1.08 1)" font-size="20" text-anchor="end">80</text>
<text transform="translate(855.85 1511.42) scale(1.08 1)" font-size="20" text-anchor="end">100</text>
<text transform="translate(855.85 1466.43) scale(1.08 1)" font-size="20" text-anchor="end">120</text>
<text transform="translate(855.85 1421.44) scale(1.08 1)" font-size="20" text-anchor="end">140</text>
<text transform="translate(855.85 1376.45) scale(1.08 1)" font-size="20" text-anchor="end">160</text>
<text transform="translate(855.85 1331.46) scale(1.08 1)" font-size="20" text-anchor="end">180</text>
<text x="1144" y="1837" font-size="22.5" font-weight="bold" text-anchor="middle" textLength="238.4" lengthAdjust="spacingAndGlyphs">Substitution ratio (%)</text>
<text transform="translate(804.1 1550.55) rotate(-90)" font-size="23.6" font-weight="bold" text-anchor="middle" textLength="371" lengthAdjust="spacingAndGlyphs">Relative compressive stregth (%)</text>
<rect x="889.5" y="1717.5" width="105" height="32" fill="#fff" stroke="#2a2a2a" stroke-width="1"/>
<path d="M919.3 1725.1L927.1 1738.9L911.5 1738.9Z" stroke="#000" stroke-width="2.4" fill="#fff" stroke-linejoin="round"/>
<text x="952.5" y="1741.5" font-size="21.5">Iron</text>
<text x="1110.4" y="1908.6" font-size="24" font-family="'Liberation Serif',serif" text-anchor="middle" textLength="452" lengthAdjust="spacingAndGlyphs">(f) Coarse aggregate in Portland/blended CBM</text>
</g>
<g>
<path d="M95.1 2408.9V2399.4M209.48 2408.9V2399.4M323.86 2408.9V2399.4M438.24 2408.9V2399.4M552.62 2408.9V2399.4M667 2408.9V2399.4M117.98 2408.9V2403.9M140.85 2408.9V2403.9M163.73 2408.9V2403.9M186.6 2408.9V2403.9M232.36 2408.9V2403.9M255.23 2408.9V2403.9M278.11 2408.9V2403.9M300.98 2408.9V2403.9M346.74 2408.9V2403.9M369.61 2408.9V2403.9M392.49 2408.9V2403.9M415.36 2408.9V2403.9M461.12 2408.9V2403.9M483.99 2408.9V2403.9M506.87 2408.9V2403.9M529.74 2408.9V2403.9M575.5 2408.9V2403.9M598.37 2408.9V2403.9M621.25 2408.9V2403.9M644.12 2408.9V2403.9M95.1 2408.9H104.6M95.1 2361.81H104.6M95.1 2314.72H104.6M95.1 2267.63H104.6M95.1 2220.54H104.6M95.1 2173.45H104.6M95.1 2126.36H104.6M95.1 2079.27H104.6M95.1 2032.18H104.6M95.1 1985.09H104.6M95.1 1938H104.6M95.1 2399.48H100.1M95.1 2390.06H100.1M95.1 2380.65H100.1M95.1 2371.23H100.1M95.1 2352.39H100.1M95.1 2342.97H100.1M95.1 2333.56H100.1M95.1 2324.14H100.1M95.1 2305.3H100.1M95.1 2295.88H100.1M95.1 2286.47H100.1M95.1 2277.05H100.1M95.1 2258.21H100.1M95.1 2248.79H100.1M95.1 2239.38H100.1M95.1 2229.96H100.1M95.1 2211.12H100.1M95.1 2201.7H100.1M95.1 2192.29H100.1M95.1 2182.87H100.1M95.1 2164.03H100.1M95.1 2154.61H100.1M95.1 2145.2H100.1M95.1 2135.78H100.1M95.1 2116.94H100.1M95.1 2107.52H100.1M95.1 2098.11H100.1M95.1 2088.69H100.1M95.1 2069.85H100.1M95.1 2060.43H100.1M95.1 2051.02H100.1M95.1 2041.6H100.1M95.1 2022.76H100.1M95.1 2013.34H100.1M95.1 2003.93H100.1M95.1 1994.51H100.1M95.1 1975.67H100.1M95.1 1966.25H100.1M95.1 1956.84H100.1M95.1 1947.42H100.1" stroke="#000" stroke-width="2" fill="none"/>
<rect x="95.1" y="1938" width="571.9" height="470.9" stroke="#000" stroke-width="2" fill="none"/>
<rect x="90.15" y="2121.41" width="9.9" height="9.9" stroke="#00dc00" stroke-width="2.4" fill="#fff" stroke-linejoin="round"/>
<rect x="147.34" y="2083.5" width="9.9" height="9.9" stroke="#00dc00" stroke-width="2.4" fill="#fff" stroke-linejoin="round"/>
<rect x="147.34" y="2086.56" width="9.9" height="9.9" stroke="#00dc00" stroke-width="2.4" fill="#fff" stroke-linejoin="round"/>
<rect x="147.34" y="2120" width="9.9" height="9.9" stroke="#00dc00" stroke-width="2.4" fill="#fff" stroke-linejoin="round"/>
<rect x="204.53" y="2112.23" width="9.9" height="9.9" stroke="#00dc00" stroke-width="2.4" fill="#fff" stroke-linejoin="round"/>
<rect x="204.53" y="2132.01" width="9.9" height="9.9" stroke="#00dc00" stroke-width="2.4" fill="#fff" stroke-linejoin="round"/>
<rect x="261.72" y="2104.69" width="9.9" height="9.9" stroke="#00dc00" stroke-width="2.4" fill="#fff" stroke-linejoin="round"/>
<rect x="261.72" y="2135.54" width="9.9" height="9.9" stroke="#00dc00" stroke-width="2.4" fill="#fff" stroke-linejoin="round"/>
<rect x="261.72" y="2139.78" width="9.9" height="9.9" stroke="#00dc00" stroke-width="2.4" fill="#fff" stroke-linejoin="round"/>
<rect x="261.72" y="2148.25" width="9.9" height="9.9" stroke="#00dc00" stroke-width="2.4" fill="#fff" stroke-linejoin="round"/>
<path d="M95.1 2118.53L102.12 2130.95L88.08 2130.95Z" stroke="#000" stroke-width="2.4" fill="#fff" stroke-linejoin="round"/>
<path d="M152.29 2107.46L159.31 2119.88L145.27 2119.88Z" stroke="#000" stroke-width="2.4" fill="#fff" stroke-linejoin="round"/>
<path d="M152.29 2117.82L159.31 2130.24L145.27 2130.24Z" stroke="#000" stroke-width="2.4" fill="#fff" stroke-linejoin="round"/>
<path d="M209.48 2084.15L216.5 2096.57L202.46 2096.57Z" stroke="#000" stroke-width="2.4" fill="#fff" stroke-linejoin="round"/>
<path d="M209.48 2092.63L216.5 2105.05L202.46 2105.05Z" stroke="#000" stroke-width="2.4" fill="#fff" stroke-linejoin="round"/>
<path d="M266.67 2054.49L273.69 2066.91L259.65 2066.91Z" stroke="#000" stroke-width="2.4" fill="#fff" stroke-linejoin="round"/>
<path d="M266.67 2077.33L273.69 2089.75L259.65 2089.75Z" stroke="#000" stroke-width="2.4" fill="#fff" stroke-linejoin="round"/>
<path d="M266.67 2083.68L273.69 2096.1L259.65 2096.1Z" stroke="#000" stroke-width="2.4" fill="#fff" stroke-linejoin="round"/>
<path d="M323.86 2015.87L330.88 2028.29L316.84 2028.29Z" stroke="#000" stroke-width="2.4" fill="#fff" stroke-linejoin="round"/>
<path d="M323.86 2032.59L330.88 2045.01L316.84 2045.01Z" stroke="#000" stroke-width="2.4" fill="#fff" stroke-linejoin="round"/>
<path d="M323.86 2070.03L330.88 2082.45L316.84 2082.45Z" stroke="#000" stroke-width="2.4" fill="#fff" stroke-linejoin="round"/>
<path d="M381.05 2020.58L388.07 2033L374.03 2033Z" stroke="#000" stroke-width="2.4" fill="#fff" stroke-linejoin="round"/>
<path d="M381.05 2026.7L388.07 2039.12L374.03 2039.12Z" stroke="#000" stroke-width="2.4" fill="#fff" stroke-linejoin="round"/>
<path d="M381.05 2079.45L388.07 2091.87L374.03 2091.87Z" stroke="#000" stroke-width="2.4" fill="#fff" stroke-linejoin="round"/>
<path d="M438.24 2091.92L445.26 2104.34L431.22 2104.34Z" stroke="#000" stroke-width="2.4" fill="#fff" stroke-linejoin="round"/>
<path d="M438.24 2127.95L445.26 2140.37L431.22 2140.37Z" stroke="#000" stroke-width="2.4" fill="#fff" stroke-linejoin="round"/>
<path d="M438.24 2163.03L445.26 2175.45L431.22 2175.45Z" stroke="#000" stroke-width="2.4" fill="#fff" stroke-linejoin="round"/>
<path d="M495.43 2115.47L502.45 2127.89L488.41 2127.89Z" stroke="#000" stroke-width="2.4" fill="#fff" stroke-linejoin="round"/>
<path d="M495.43 2192.7L502.45 2205.12L488.41 2205.12Z" stroke="#000" stroke-width="2.4" fill="#fff" stroke-linejoin="round"/>
<path d="M495.43 2199.05L502.45 2211.47L488.41 2211.47Z" stroke="#000" stroke-width="2.4" fill="#fff" stroke-linejoin="round"/>
<path d="M552.62 2235.08L559.64 2247.5L545.6 2247.5Z" stroke="#000" stroke-width="2.4" fill="#fff" stroke-linejoin="round"/>
<path d="M552.62 2252.74L559.64 2265.16L545.6 2265.16Z" stroke="#000" stroke-width="2.4" fill="#fff" stroke-linejoin="round"/>
<path d="M552.62 2263.33L559.64 2275.75L545.6 2275.75Z" stroke="#000" stroke-width="2.4" fill="#fff" stroke-linejoin="round"/>
<path d="M95.1 2118.69L96.98 2124.1L102.7 2124.21L98.14 2127.67L99.8 2133.15L95.1 2129.88L90.4 2133.15L92.06 2127.67L87.5 2124.21L93.22 2124.1Z" stroke="#8000ff" stroke-width="2.4" fill="#fff" stroke-linejoin="round"/>
<path d="M123.69 2135.41L125.57 2140.81L131.3 2140.93L126.74 2144.39L128.39 2149.87L123.69 2146.6L119 2149.87L120.65 2144.39L116.09 2140.93L121.82 2140.81Z" stroke="#8000ff" stroke-width="2.4" fill="#fff" stroke-linejoin="round"/>
<path d="M123.69 2146.95L125.57 2152.35L131.3 2152.47L126.74 2155.93L128.39 2161.4L123.69 2158.13L119 2161.4L120.65 2155.93L116.09 2152.47L121.82 2152.35Z" stroke="#8000ff" stroke-width="2.4" fill="#fff" stroke-linejoin="round"/>
<path d="M123.69 2165.78L125.57 2171.19L131.3 2171.3L126.74 2174.76L128.39 2180.24L123.69 2176.97L119 2180.24L120.65 2174.76L116.09 2171.3L121.82 2171.19Z" stroke="#8000ff" stroke-width="2.4" fill="#fff" stroke-linejoin="round"/>
<path d="M123.69 2170.49L125.57 2175.9L131.3 2176.01L126.74 2179.47L128.39 2184.95L123.69 2181.68L119 2184.95L120.65 2179.47L116.09 2176.01L121.82 2175.9Z" stroke="#8000ff" stroke-width="2.4" fill="#fff" stroke-linejoin="round"/>
<path d="M123.69 2177.79L125.57 2183.2L131.3 2183.31L126.74 2186.77L128.39 2192.25L123.69 2188.98L119 2192.25L120.65 2186.77L116.09 2183.31L121.82 2183.2Z" stroke="#8000ff" stroke-width="2.4" fill="#fff" stroke-linejoin="round"/>
<path d="M152.29 2115.63L154.17 2121.04L159.89 2121.15L155.33 2124.61L156.99 2130.09L152.29 2126.82L147.59 2130.09L149.25 2124.61L144.69 2121.15L150.41 2121.04Z" stroke="#8000ff" stroke-width="2.4" fill="#fff" stroke-linejoin="round"/>
<path d="M152.29 2143.41L154.17 2148.82L159.89 2148.94L155.33 2152.39L156.99 2157.87L152.29 2154.6L147.59 2157.87L149.25 2152.39L144.69 2148.94L150.41 2148.82Z" stroke="#8000ff" stroke-width="2.4" fill="#fff" stroke-linejoin="round"/>
<path d="M152.29 2160.6L154.17 2166.01L159.89 2166.12L155.33 2169.58L156.99 2175.06L152.29 2171.79L147.59 2175.06L149.25 2169.58L144.69 2166.12L150.41 2166.01Z" stroke="#8000ff" stroke-width="2.4" fill="#fff" stroke-linejoin="round"/>
<path d="M152.29 2163.43L154.17 2168.83L159.89 2168.95L155.33 2172.41L156.99 2177.89L152.29 2174.62L147.59 2177.89L149.25 2172.41L144.69 2168.95L150.41 2168.83Z" stroke="#8000ff" stroke-width="2.4" fill="#fff" stroke-linejoin="round"/>
<path d="M152.29 2169.55L154.17 2174.95L159.89 2175.07L155.33 2178.53L156.99 2184.01L152.29 2180.74L147.59 2184.01L149.25 2178.53L144.69 2175.07L150.41 2174.95Z" stroke="#8000ff" stroke-width="2.4" fill="#fff" stroke-linejoin="round"/>
<path d="M180.88 2113.04L182.76 2118.45L188.49 2118.56L183.93 2122.02L185.58 2127.5L180.88 2124.23L176.19 2127.5L177.84 2122.02L173.28 2118.56L179.01 2118.45Z" stroke="#8000ff" stroke-width="2.4" fill="#fff" stroke-linejoin="round"/>
<path d="M180.88 2142.24L182.76 2147.64L188.49 2147.76L183.93 2151.22L185.58 2156.69L180.88 2153.43L176.19 2156.69L177.84 2151.22L173.28 2147.76L179.01 2147.64Z" stroke="#8000ff" stroke-width="2.4" fill="#fff" stroke-linejoin="round"/>
<path d="M180.88 2148.59L182.76 2154L188.49 2154.12L183.93 2157.57L185.58 2163.05L180.88 2159.78L176.19 2163.05L177.84 2157.57L173.28 2154.12L179.01 2154Z" stroke="#8000ff" stroke-width="2.4" fill="#fff" stroke-linejoin="round"/>
<path d="M180.88 2155.42L182.76 2160.83L188.49 2160.94L183.93 2164.4L185.58 2169.88L180.88 2166.61L176.19 2169.88L177.84 2164.4L173.28 2160.94L179.01 2160.83Z" stroke="#8000ff" stroke-width="2.4" fill="#fff" stroke-linejoin="round"/>
<path d="M209.48 2143.41L211.36 2148.82L217.08 2148.94L212.52 2152.39L214.18 2157.87L209.48 2154.6L204.78 2157.87L206.44 2152.39L201.88 2148.94L207.6 2148.82Z" stroke="#8000ff" stroke-width="2.4" fill="#fff" stroke-linejoin="round"/>
<path d="M209.48 2146.24L211.36 2151.65L217.08 2151.76L212.52 2155.22L214.18 2160.7L209.48 2157.43L204.78 2160.7L206.44 2155.22L201.88 2151.76L207.6 2151.65Z" stroke="#8000ff" stroke-width="2.4" fill="#fff" stroke-linejoin="round"/>
<path d="M209.48 2152.13L211.36 2157.53L217.08 2157.65L212.52 2161.11L214.18 2166.58L209.48 2163.31L204.78 2166.58L206.44 2161.11L201.88 2157.65L207.6 2157.53Z" stroke="#8000ff" stroke-width="2.4" fill="#fff" stroke-linejoin="round"/>
<path d="M209.48 2167.9L211.36 2173.31L217.08 2173.42L212.52 2176.88L214.18 2182.36L209.48 2179.09L204.78 2182.36L206.44 2176.88L201.88 2173.42L207.6 2173.31Z" stroke="#8000ff" stroke-width="2.4" fill="#fff" stroke-linejoin="round"/>
<path d="M209.48 2176.14L211.36 2181.55L217.08 2181.66L212.52 2185.12L214.18 2190.6L209.48 2187.33L204.78 2190.6L206.44 2185.12L201.88 2181.66L207.6 2181.55Z" stroke="#8000ff" stroke-width="2.4" fill="#fff" stroke-linejoin="round"/>
<path d="M238.07 2157.54L239.95 2162.95L245.68 2163.06L241.12 2166.52L242.77 2172L238.07 2168.73L233.38 2172L235.03 2166.52L230.47 2163.06L236.2 2162.95Z" stroke="#8000ff" stroke-width="2.4" fill="#fff" stroke-linejoin="round"/>
<path d="M238.07 2164.13L239.95 2169.54L245.68 2169.66L241.12 2173.11L242.77 2178.59L238.07 2175.32L233.38 2178.59L235.03 2173.11L230.47 2169.66L236.2 2169.54Z" stroke="#8000ff" stroke-width="2.4" fill="#fff" stroke-linejoin="round"/>
<path d="M238.07 2182.5L239.95 2187.9L245.68 2188.02L241.12 2191.48L242.77 2196.96L238.07 2193.69L233.38 2196.96L235.03 2191.48L230.47 2188.02L236.2 2187.9Z" stroke="#8000ff" stroke-width="2.4" fill="#fff" stroke-linejoin="round"/>
<path d="M238.07 2186.03L239.95 2191.44L245.68 2191.55L241.12 2195.01L242.77 2200.49L238.07 2197.22L233.38 2200.49L235.03 2195.01L230.47 2191.55L236.2 2191.44Z" stroke="#8000ff" stroke-width="2.4" fill="#fff" stroke-linejoin="round"/>
<text transform="translate(95.1 2435.3) scale(1.01 1)" font-size="19.1" text-anchor="middle">0</text>
<text transform="translate(209.48 2435.3) scale(1.01 1)" font-size="19.1" text-anchor="middle">20</text>
<text transform="translate(323.86 2435.3) scale(1.01 1)" font-size="19.1" text-anchor="middle">40</text>
<text transform="translate(438.24 2435.3) scale(1.01 1)" font-size="19.1" text-anchor="middle">60</text>
<text transform="translate(552.62 2435.3) scale(1.01 1)" font-size="19.1" text-anchor="middle">80</text>
<text transform="translate(667 2435.3) scale(1.01 1)" font-size="19.1" text-anchor="middle">100</text>
<text transform="translate(85.85 2414.54) scale(1.01 1)" font-size="19.1" text-anchor="end">-20</text>
<text transform="translate(85.85 2367.45) scale(1.01 1)" font-size="19.1" text-anchor="end">0</text>
<text transform="translate(85.85 2320.36) scale(1.01 1)" font-size="19.1" text-anchor="end">20</text>
<text transform="translate(85.85 2273.27) scale(1.01 1)" font-size="19.1" text-anchor="end">40</text>
<text transform="translate(85.85 2226.18) scale(1.01 1)" font-size="19.1" text-anchor="end">60</text>
<text transform="translate(85.85 2179.09) scale(1.01 1)" font-size="19.1" text-anchor="end">80</text>
<text transform="translate(85.85 2132) scale(1.01 1)" font-size="19.1" text-anchor="end">100</text>
<text transform="translate(85.85 2084.91) scale(1.01 1)" font-size="19.1" text-anchor="end">120</text>
<text transform="translate(85.85 2037.82) scale(1.01 1)" font-size="19.1" text-anchor="end">140</text>
<text transform="translate(85.85 1990.73) scale(1.01 1)" font-size="19.1" text-anchor="end">160</text>
<text transform="translate(85.85 1943.64) scale(1.01 1)" font-size="19.1" text-anchor="end">180</text>
<text x="380.9" y="2472.8" font-size="23.5" font-weight="bold" text-anchor="middle" textLength="240.4" lengthAdjust="spacingAndGlyphs">Substitution ratio (%)</text>
<text transform="translate(40.1 2172.9) rotate(-90)" font-size="24.2" font-weight="bold" text-anchor="middle" textLength="385.5" lengthAdjust="spacingAndGlyphs">Relative compressive stregth (%)</text>
<rect x="118.5" y="2306.5" width="525" height="85" fill="#fff" stroke="#2a2a2a" stroke-width="1"/>
<rect x="141.25" y="2317.15" width="9.9" height="9.9" stroke="#00dc00" stroke-width="2.4" fill="#fff" stroke-linejoin="round"/>
<text x="176" y="2329.8" font-size="21.5" textLength="463" lengthAdjust="spacingAndGlyphs">Gold - Magnesium potassium phosphate cement</text>
<path d="M146.2 2341.57L153.22 2353.99L139.18 2353.99Z" stroke="#000" stroke-width="2.4" fill="#fff" stroke-linejoin="round"/>
<text x="176" y="2357.1" font-size="21.5">Iron - Supersulfate cement</text>
<path d="M146.2 2370.31L147.77 2374.81L152.53 2374.91L148.73 2377.79L150.11 2382.36L146.2 2379.63L142.29 2382.36L143.67 2377.79L139.87 2374.91L144.63 2374.81Z" stroke="#8000ff" stroke-width="2.4" fill="#fff" stroke-linejoin="round"/>
<text x="176" y="2384.4" font-size="21.5" textLength="458.5" lengthAdjust="spacingAndGlyphs">Bauxite tailings - Magnesium phosphate cement</text>
<text x="380.4" y="2540.4" font-size="24" font-family="'Liberation Serif',serif" text-anchor="middle" textLength="335" lengthAdjust="spacingAndGlyphs">(g) Fine aggregate in special CBM</text>
</g>
<g>
<path d="M860.4 2404.9V2395.4M936.48 2404.9V2395.4M1012.56 2404.9V2395.4M1088.64 2404.9V2395.4M1164.72 2404.9V2395.4M1240.8 2404.9V2395.4M1316.88 2404.9V2395.4M1392.96 2404.9V2395.4M873.08 2404.9V2399.9M885.76 2404.9V2399.9M898.44 2404.9V2399.9M911.12 2404.9V2399.9M923.8 2404.9V2399.9M949.16 2404.9V2399.9M961.84 2404.9V2399.9M974.52 2404.9V2399.9M987.2 2404.9V2399.9M999.88 2404.9V2399.9M1025.24 2404.9V2399.9M1037.92 2404.9V2399.9M1050.6 2404.9V2399.9M1063.28 2404.9V2399.9M1075.96 2404.9V2399.9M1101.32 2404.9V2399.9M1114 2404.9V2399.9M1126.68 2404.9V2399.9M1139.36 2404.9V2399.9M1152.04 2404.9V2399.9M1177.4 2404.9V2399.9M1190.08 2404.9V2399.9M1202.76 2404.9V2399.9M1215.44 2404.9V2399.9M1228.12 2404.9V2399.9M1253.48 2404.9V2399.9M1266.16 2404.9V2399.9M1278.84 2404.9V2399.9M1291.52 2404.9V2399.9M1304.2 2404.9V2399.9M1329.56 2404.9V2399.9M1342.24 2404.9V2399.9M1354.92 2404.9V2399.9M1367.6 2404.9V2399.9M1380.28 2404.9V2399.9M1405.64 2404.9V2399.9M1418.32 2404.9V2399.9M1431 2404.9V2399.9M860.4 2404.9H869.9M860.4 2339.96H869.9M860.4 2275.01H869.9M860.4 2210.07H869.9M860.4 2145.13H869.9M860.4 2080.19H869.9M860.4 2015.24H869.9M860.4 1950.3H869.9M860.4 2394.08H865.4M860.4 2383.25H865.4M860.4 2372.43H865.4M860.4 2361.6H865.4M860.4 2350.78H865.4M860.4 2329.13H865.4M860.4 2318.31H865.4M860.4 2307.49H865.4M860.4 2296.66H865.4M860.4 2285.84H865.4M860.4 2264.19H865.4M860.4 2253.37H865.4M860.4 2242.54H865.4M860.4 2231.72H865.4M860.4 2220.9H865.4M860.4 2199.25H865.4M860.4 2188.42H865.4M860.4 2177.6H865.4M860.4 2166.78H865.4M860.4 2155.95H865.4M860.4 2134.3H865.4M860.4 2123.48H865.4M860.4 2112.66H865.4M860.4 2101.83H865.4M860.4 2091.01H865.4M860.4 2069.36H865.4M860.4 2058.54H865.4M860.4 2047.71H865.4M860.4 2036.89H865.4M860.4 2026.07H865.4M860.4 2004.42H865.4M860.4 1993.6H865.4M860.4 1982.77H865.4M860.4 1971.95H865.4M860.4 1961.12H865.4" stroke="#000" stroke-width="2" fill="none"/>
<rect x="860.4" y="1950.3" width="570.6" height="454.6" stroke="#000" stroke-width="2" fill="none"/>
<rect x="987.38" y="2303.6" width="12.32" height="12.32" stroke="#000" stroke-width="2.5" fill="#fff" stroke-linejoin="round"/>
<rect x="987.38" y="2314.31" width="12.32" height="12.32" stroke="#000" stroke-width="2.5" fill="#fff" stroke-linejoin="round"/>
<rect x="1386.8" y="2260.74" width="12.32" height="12.32" stroke="#000" stroke-width="2.5" fill="#fff" stroke-linejoin="round"/>
<circle cx="917.46" cy="2190.59" r="7.5" stroke="#005050" stroke-width="2.5" fill="#fff"/>
<circle cx="917.46" cy="2236.37" r="7.5" stroke="#005050" stroke-width="2.5" fill="#fff"/>
<circle cx="917.46" cy="2336.71" r="7.5" stroke="#005050" stroke-width="2.5" fill="#fff"/>
<circle cx="993.54" cy="2193.84" r="7.5" stroke="#005050" stroke-width="2.5" fill="#fff"/>
<circle cx="993.54" cy="2233.13" r="7.5" stroke="#005050" stroke-width="2.5" fill="#fff"/>
<circle cx="993.54" cy="2270.47" r="7.5" stroke="#005050" stroke-width="2.5" fill="#fff"/>
<circle cx="1392.96" cy="2140.26" r="7.5" stroke="#005050" stroke-width="2.5" fill="#fff"/>
<circle cx="1392.96" cy="2146.1" r="7.5" stroke="#005050" stroke-width="2.5" fill="#fff"/>
<circle cx="1392.96" cy="2221.11" r="7.5" stroke="#005050" stroke-width="2.5" fill="#fff"/>
<circle cx="1392.96" cy="2290.6" r="7.5" stroke="#005050" stroke-width="2.5" fill="#fff"/>
<path d="M917.46 2318.52L926.2 2333.98L908.72 2333.98Z" stroke="#009696" stroke-width="2.5" fill="#fff" stroke-linejoin="round"/>
<path d="M993.54 1964.26L1002.28 1979.72L984.8 1979.72Z" stroke="#009696" stroke-width="2.5" fill="#fff" stroke-linejoin="round"/>
<path d="M993.54 2166.23L1002.28 2181.69L984.8 2181.69Z" stroke="#009696" stroke-width="2.5" fill="#fff" stroke-linejoin="round"/>
<path d="M917.46 2326.74L919.51 2332.62L925.74 2332.75L920.77 2336.51L922.58 2342.48L917.46 2338.92L912.34 2342.48L914.15 2336.51L909.18 2332.75L915.41 2332.62Z" stroke="#ff64b4" stroke-width="2.5" fill="#fff" stroke-linejoin="round"/>
<path d="M993.54 2249.13L995.59 2255.02L1001.82 2255.14L996.85 2258.91L998.66 2264.87L993.54 2261.31L988.42 2264.87L990.23 2258.91L985.26 2255.14L991.49 2255.02Z" stroke="#ff64b4" stroke-width="2.5" fill="#fff" stroke-linejoin="round"/>
<path d="M993.54 2316.35L995.59 2322.23L1001.82 2322.36L996.85 2326.12L998.66 2332.09L993.54 2328.53L988.42 2332.09L990.23 2326.12L985.26 2322.36L991.49 2322.23Z" stroke="#ff64b4" stroke-width="2.5" fill="#fff" stroke-linejoin="round"/>
<path d="M993.54 2323.49L995.59 2329.38L1001.82 2329.5L996.85 2333.27L998.66 2339.23L993.54 2335.67L988.42 2339.23L990.23 2333.27L985.26 2329.5L991.49 2329.38Z" stroke="#ff64b4" stroke-width="2.5" fill="#fff" stroke-linejoin="round"/>
<path d="M1392.96 2321.54L1395.01 2327.43L1401.24 2327.55L1396.27 2331.32L1398.08 2337.28L1392.96 2333.72L1387.84 2337.28L1389.65 2331.32L1384.68 2327.55L1390.91 2327.43Z" stroke="#ff64b4" stroke-width="2.5" fill="#fff" stroke-linejoin="round"/>
<path d="M917.46 2103.47L925.41 2108.07L925.41 2117.25L917.46 2121.84L909.51 2117.25L909.51 2108.07Z" stroke="#ffb4d7" stroke-width="2.5" fill="#fff" stroke-linejoin="round"/>
<path d="M917.46 2218.42L925.41 2223.01L925.41 2232.2L917.46 2236.79L909.51 2232.2L909.51 2223.01Z" stroke="#ffb4d7" stroke-width="2.5" fill="#fff" stroke-linejoin="round"/>
<path d="M993.54 2086.59L1001.49 2091.18L1001.49 2100.36L993.54 2104.96L985.59 2100.36L985.59 2091.18Z" stroke="#ffb4d7" stroke-width="2.5" fill="#fff" stroke-linejoin="round"/>
<path d="M993.54 2281.42L1001.49 2286.01L1001.49 2295.19L993.54 2299.78L985.59 2295.19L985.59 2286.01Z" stroke="#ffb4d7" stroke-width="2.5" fill="#fff" stroke-linejoin="round"/>
<path d="M1392.96 2071.98L1400.91 2076.57L1400.91 2085.75L1392.96 2090.34L1385.01 2085.75L1385.01 2076.57Z" stroke="#ffb4d7" stroke-width="2.5" fill="#fff" stroke-linejoin="round"/>
<path d="M1392.96 2177.18L1400.91 2181.78L1400.91 2190.96L1392.96 2195.55L1385.01 2190.96L1385.01 2181.78Z" stroke="#ffb4d7" stroke-width="2.5" fill="#fff" stroke-linejoin="round"/>
<path d="M1392.96 2267.45L1400.91 2272.05L1400.91 2281.23L1392.96 2285.82L1385.01 2281.23L1385.01 2272.05Z" stroke="#ffb4d7" stroke-width="2.5" fill="#fff" stroke-linejoin="round"/>
<path d="M993.54 2151.99V2168.79M985.14 2160.39H1001.94M985.36 2152.21L1001.72 2168.57M985.36 2168.57L1001.72 2152.21" stroke="#4b00a0" stroke-width="2.5" fill="none"/>
<path d="M993.54 2237.39V2254.19M985.14 2245.79H1001.94M985.36 2237.61L1001.72 2253.97M985.36 2253.97L1001.72 2237.61" stroke="#4b00a0" stroke-width="2.5" fill="none"/>
<path d="M993.54 2259.47V2276.27M985.14 2267.87H1001.94M985.36 2259.69L1001.72 2276.05M985.36 2276.05L1001.72 2259.69" stroke="#4b00a0" stroke-width="2.5" fill="none"/>
<path d="M1392.96 2143.87V2160.67M1384.56 2152.27H1401.36M1384.78 2144.1L1401.14 2160.45M1384.78 2160.45L1401.14 2144.1" stroke="#4b00a0" stroke-width="2.5" fill="none"/>
<text transform="translate(860.4 2430.9) scale(1.01 1)" font-size="19" text-anchor="middle">0</text>
<text transform="translate(936.48 2430.9) scale(1.01 1)" font-size="19" text-anchor="middle">4</text>
<text transform="translate(1012.56 2430.9) scale(1.01 1)" font-size="19" text-anchor="middle">8</text>
<text transform="translate(1088.64 2430.9) scale(1.01 1)" font-size="19" text-anchor="middle">12</text>
<text transform="translate(1164.72 2430.9) scale(1.01 1)" font-size="19" text-anchor="middle">16</text>
<text transform="translate(1240.8 2430.9) scale(1.01 1)" font-size="19" text-anchor="middle">20</text>
<text transform="translate(1316.88 2430.9) scale(1.01 1)" font-size="19" text-anchor="middle">24</text>
<text transform="translate(1392.96 2430.9) scale(1.01 1)" font-size="19" text-anchor="middle">28</text>
<text transform="translate(850.85 2410.5) scale(1.01 1)" font-size="19" text-anchor="end">-20</text>
<text transform="translate(850.85 2345.56) scale(1.01 1)" font-size="19" text-anchor="end">0</text>
<text transform="translate(850.85 2280.62) scale(1.01 1)" font-size="19" text-anchor="end">20</text>
<text transform="translate(850.85 2215.67) scale(1.01 1)" font-size="19" text-anchor="end">40</text>
<text transform="translate(850.85 2150.73) scale(1.01 1)" font-size="19" text-anchor="end">60</text>
<text transform="translate(850.85 2085.79) scale(1.01 1)" font-size="19" text-anchor="end">80</text>
<text transform="translate(850.85 2020.84) scale(1.01 1)" font-size="19" text-anchor="end">100</text>
<text transform="translate(850.85 1955.9) scale(1.01 1)" font-size="19" text-anchor="end">120</text>
<text x="1145" y="2468" font-size="24.5" font-weight="bold" text-anchor="middle" textLength="216.4" lengthAdjust="spacingAndGlyphs">Curing time (day)</text>
<text transform="translate(805.1 2178.1) rotate(-90)" font-size="25.5" font-weight="bold" text-anchor="middle" textLength="350.9" lengthAdjust="spacingAndGlyphs">Compressive strength (MPa)</text>
<rect x="1037.5" y="1962.5" width="303" height="161" fill="#fff" stroke="#2a2a2a" stroke-width="1"/>
<rect x="1058.25" y="1971.05" width="12.1" height="12.1" stroke="#000" stroke-width="2.5" fill="#fff" stroke-linejoin="round"/>
<text x="1095" y="1984.73" font-size="21.3">Raw tailings</text>
<circle cx="1064.3" cy="2003.45" r="7.37" stroke="#005050" stroke-width="2.5" fill="#fff"/>
<text x="1095" y="2011.08" font-size="21.3">Low Ca additives</text>
<path d="M1064.3 2020.23L1072.88 2035.41L1055.72 2035.41Z" stroke="#009696" stroke-width="2.5" fill="#fff" stroke-linejoin="round"/>
<text x="1095" y="2037.43" font-size="21.3">High Ca additives</text>
<path d="M1064.3 2048.34L1066.21 2053.85L1072.04 2053.96L1067.4 2057.49L1069.08 2063.07L1064.3 2059.74L1059.52 2063.07L1061.2 2057.49L1056.56 2053.96L1062.39 2053.85Z" stroke="#ff64b4" stroke-width="2.5" fill="#fff" stroke-linejoin="round"/>
<text x="1095" y="2063.78" font-size="21.3">Mechanical activation</text>
<path d="M1064.3 2073.48L1072.11 2077.99L1072.11 2087.01L1064.3 2091.52L1056.49 2087.01L1056.49 2077.99Z" stroke="#ffb4d7" stroke-width="2.5" fill="#fff" stroke-linejoin="round"/>
<text x="1095" y="2090.13" font-size="21.3">Thermal treatment</text>
<path d="M1064.3 2100.6V2117.1M1056.05 2108.85H1072.55M1056.27 2100.82L1072.33 2116.88M1056.27 2116.88L1072.33 2100.82" stroke="#4b00a0" stroke-width="2.5" fill="none"/>
<text x="1095" y="2116.48" font-size="21.3" textLength="240.4" lengthAdjust="spacingAndGlyphs">Alkali fusion pretreatment</text>
<text x="1169.5" y="2529" font-size="24" font-family="'Liberation Serif',serif" text-anchor="middle" textLength="749.5" lengthAdjust="spacingAndGlyphs">(h) Effect of amorphous aluminosilicates and pretreatments on tailings-AAM.</text>
</g>
</svg>
</body></html>
